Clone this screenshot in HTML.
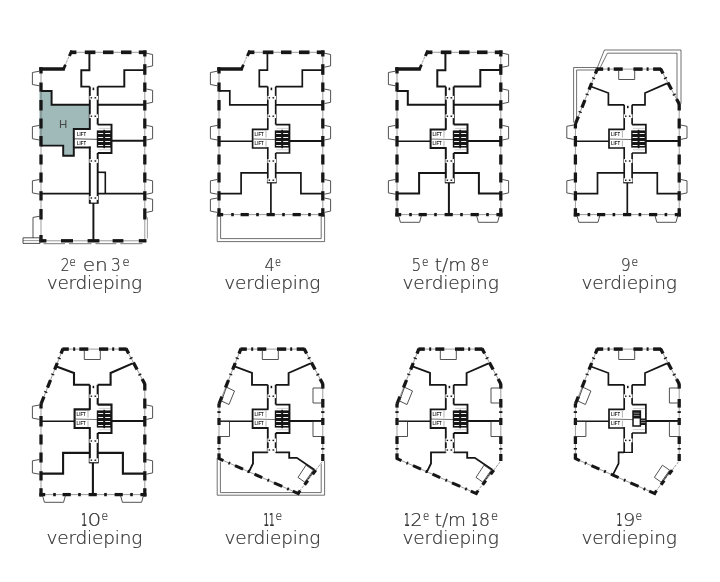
<!DOCTYPE html>
<html lang="nl"><head><meta charset="utf-8"><title>Verdiepingen</title>
<style>
html,body{margin:0;padding:0;background:#fff;}
body{width:720px;height:582px;overflow:hidden;}
svg{display:block;}
text{font-family:"Liberation Sans",sans-serif;filter:grayscale(1);}
.lb{font-family:"DejaVu Sans Light","DejaVu Sans","Liberation Sans",sans-serif;font-weight:200;font-size:18.5px;fill:#333;stroke:#333;stroke-width:0.22px;}
.sp{font-size:12px;}
.l1{font-family:"DejaVu Sans","Liberation Sans",sans-serif;font-weight:400;}
</style></head><body>
<svg width="720" height="582" viewBox="0 0 720 582">
<rect width="720" height="582" fill="#fff"/>
<g transform="translate(0,0)">
<path d="M39.4 90.9 L51.6 90.9 L51.6 104.8 L89.8 104.8 L89.8 129 L73.8 129 L73.8 155.8 L63.2 155.8 L63.2 145.6 L39.4 145.6 Z" fill="#a0baba" stroke="none" stroke-width="0" stroke-linejoin="miter"/>
<path d="M64.5 67 L70.3 53" fill="none" stroke="#383838" stroke-width="0.5" stroke-linejoin="miter"/>
<path d="M64.5 67 L70.3 53" stroke="#fff" stroke-width="1" stroke-dasharray="1.2 2.4" fill="none"/>
<line x1="70" y1="52.3" x2="146" y2="52.3" stroke="#383838" stroke-width="0.5"/>
<line x1="70.3" y1="52.3" x2="76.4" y2="52.3" stroke="#161616" stroke-width="3.7"/>
<line x1="84.8" y1="52.3" x2="95.4" y2="52.3" stroke="#161616" stroke-width="3.7"/>
<line x1="103" y1="52.3" x2="113.5" y2="52.3" stroke="#161616" stroke-width="3.7"/>
<line x1="121" y1="52.3" x2="131.5" y2="52.3" stroke="#161616" stroke-width="3.7"/>
<line x1="138.8" y1="52.3" x2="146.5" y2="52.3" stroke="#161616" stroke-width="3.7"/>
<path d="M71.8 50.6 L69.4 56" fill="none" stroke="#161616" stroke-width="3" stroke-linejoin="miter"/>
<line x1="39.2" y1="69" x2="64.8" y2="69" stroke="#161616" stroke-width="3.5"/>
<path d="M63.4 69.5 L65.4 64.8" fill="none" stroke="#161616" stroke-width="2.8" stroke-linejoin="miter"/>
<line x1="41" y1="69" x2="41" y2="240" stroke="#383838" stroke-width="0.5"/>
<line x1="144.8" y1="52" x2="144.8" y2="240" stroke="#383838" stroke-width="0.5"/>
<line x1="41" y1="67.2" x2="41" y2="73.5" stroke="#161616" stroke-width="3.3"/>
<line x1="41" y1="82.5" x2="41" y2="91.6" stroke="#161616" stroke-width="3.3"/>
<line x1="41" y1="100" x2="41" y2="110.5" stroke="#161616" stroke-width="3.3"/>
<line x1="41" y1="118.5" x2="41" y2="128.5" stroke="#161616" stroke-width="3.3"/>
<line x1="41" y1="136" x2="41" y2="146.5" stroke="#161616" stroke-width="3.3"/>
<line x1="41" y1="154.5" x2="41" y2="164.5" stroke="#161616" stroke-width="3.3"/>
<line x1="41" y1="172.5" x2="41" y2="182.5" stroke="#161616" stroke-width="3.3"/>
<line x1="41" y1="191.2" x2="41" y2="200.5" stroke="#161616" stroke-width="3.3"/>
<line x1="41" y1="209" x2="41" y2="219.5" stroke="#161616" stroke-width="3.3"/>
<line x1="41" y1="235" x2="41" y2="242.2" stroke="#161616" stroke-width="3.3"/>
<line x1="144.8" y1="50.4" x2="144.8" y2="56.5" stroke="#161616" stroke-width="3.3"/>
<line x1="144.8" y1="64.2" x2="144.8" y2="74.8" stroke="#161616" stroke-width="3.3"/>
<line x1="144.8" y1="82.5" x2="144.8" y2="91.8" stroke="#161616" stroke-width="3.3"/>
<line x1="144.8" y1="100.2" x2="144.8" y2="110.5" stroke="#161616" stroke-width="3.3"/>
<line x1="144.8" y1="118.5" x2="144.8" y2="128.5" stroke="#161616" stroke-width="3.3"/>
<line x1="144.8" y1="136" x2="144.8" y2="146.5" stroke="#161616" stroke-width="3.3"/>
<line x1="144.8" y1="154.5" x2="144.8" y2="164.5" stroke="#161616" stroke-width="3.3"/>
<line x1="144.8" y1="172.5" x2="144.8" y2="182.5" stroke="#161616" stroke-width="3.3"/>
<line x1="144.8" y1="191.2" x2="144.8" y2="200.5" stroke="#161616" stroke-width="3.3"/>
<line x1="144.8" y1="208.4" x2="144.8" y2="219.5" stroke="#161616" stroke-width="3.3"/>
<line x1="41" y1="240.8" x2="144.8" y2="240.8" stroke="#383838" stroke-width="0.5"/>
<line x1="39.4" y1="240.8" x2="46.4" y2="240.8" stroke="#161616" stroke-width="3.4"/>
<line x1="61" y1="240.8" x2="73" y2="240.8" stroke="#161616" stroke-width="3.4"/>
<line x1="87.6" y1="240.8" x2="99.4" y2="240.8" stroke="#161616" stroke-width="3.4"/>
<line x1="112.6" y1="240.8" x2="123.4" y2="240.8" stroke="#161616" stroke-width="3.4"/>
<line x1="138.8" y1="240.8" x2="146.5" y2="240.8" stroke="#161616" stroke-width="3.4"/>
<path d="M43.5 243.7 L65 243.7" fill="none" stroke="#555" stroke-width="0.8" stroke-linejoin="miter"/>
<path d="M69 243.7 L91.5 243.7" fill="none" stroke="#555" stroke-width="0.8" stroke-linejoin="miter"/>
<path d="M95.5 243.7 L116.3 243.7" fill="none" stroke="#555" stroke-width="0.8" stroke-linejoin="miter"/>
<path d="M120.3 243.7 L142.5 243.7" fill="none" stroke="#555" stroke-width="0.8" stroke-linejoin="miter"/>
<path d="M147.4 238.5 L147.4 217.5 L146 216.5" fill="none" stroke="#383838" stroke-width="0.5" stroke-linejoin="miter"/>
<path d="M41 90.9 L51.6 90.9 L51.6 104.8 L89.8 104.8" fill="none" stroke="#161616" stroke-width="1.95" stroke-linejoin="miter"/>
<path d="M89.8 129 L73.8 129 L73.8 155.8 L63.2 155.8 L63.2 145.6 L41 145.6" fill="none" stroke="#161616" stroke-width="1.95" stroke-linejoin="miter"/>
<text x="59" y="127.6" font-size="11.5" font-weight="normal" text-anchor="start" fill="#3a4a4a" font-family="DejaVu Sans Light, DejaVu Sans, Liberation Sans, sans-serif" font-weight="200">H</text>
<path d="M89.4 52.3 L89.4 70.2 L81.3 70.2 L81.3 86.6 L89.8 86.6" fill="none" stroke="#161616" stroke-width="1.95" stroke-linejoin="miter"/>
<path d="M97.7 86.6 L124.3 86.6 L124.3 70.1 L144.8 70.1" fill="none" stroke="#161616" stroke-width="1.95" stroke-linejoin="miter"/>
<line x1="97.7" y1="104.8" x2="144.8" y2="104.8" stroke="#161616" stroke-width="1.9"/>
<line x1="111.5" y1="140.8" x2="144.8" y2="140.8" stroke="#161616" stroke-width="1.9"/>
<line x1="73.8" y1="147.5" x2="90.7" y2="147.5" stroke="#161616" stroke-width="1.95"/>
<line x1="74" y1="138.8" x2="99" y2="139.4" stroke="#222" stroke-width="0.8"/>
<text x="77" y="136" font-size="4.6" font-weight="bold" text-anchor="start" fill="#222" font-family="Liberation Sans, sans-serif" textLength="9" lengthAdjust="spacingAndGlyphs">LIFT</text>
<text x="77" y="145.3" font-size="4.6" font-weight="bold" text-anchor="start" fill="#222" font-family="Liberation Sans, sans-serif" textLength="9" lengthAdjust="spacingAndGlyphs">LIFT</text>
<line x1="89.8" y1="86.6" x2="89.8" y2="129.9" stroke="#161616" stroke-width="1.95"/>
<line x1="89.8" y1="146.6" x2="89.8" y2="203.2" stroke="#161616" stroke-width="1.95"/>
<line x1="97.7" y1="86.6" x2="97.7" y2="124.6" stroke="#161616" stroke-width="1.95"/>
<line x1="97.7" y1="153" x2="97.7" y2="203.2" stroke="#161616" stroke-width="1.95"/>
<line x1="88.9" y1="203.2" x2="98.6" y2="203.2" stroke="#161616" stroke-width="1.2"/>
<path d="M97.7 124.6 L111.5 124.6 L111.5 153 L97.7 153" fill="none" stroke="#161616" stroke-width="1.95" stroke-linejoin="miter"/>
<rect x="96.8" y="130.4" width="14.2" height="17.2" fill="#161616"/>
<rect x="103.4" y="129.8" width="1.6" height="18.4" fill="#161616"/>
<line x1="98.2" y1="133.5" x2="103.2" y2="133.5" stroke="#f4f4f4" stroke-width="1"/>
<line x1="105.2" y1="133.5" x2="110.2" y2="133.5" stroke="#f4f4f4" stroke-width="1"/>
<line x1="98.2" y1="137.5" x2="103.2" y2="137.5" stroke="#f4f4f4" stroke-width="1"/>
<line x1="105.2" y1="137.5" x2="110.2" y2="137.5" stroke="#f4f4f4" stroke-width="1"/>
<line x1="98.2" y1="141.5" x2="103.2" y2="141.5" stroke="#f4f4f4" stroke-width="1"/>
<line x1="105.2" y1="141.5" x2="110.2" y2="141.5" stroke="#f4f4f4" stroke-width="1"/>
<line x1="98.2" y1="145.5" x2="103.2" y2="145.5" stroke="#f4f4f4" stroke-width="1"/>
<line x1="105.2" y1="145.5" x2="110.2" y2="145.5" stroke="#f4f4f4" stroke-width="1"/>
<line x1="98.6" y1="128.4" x2="110.6" y2="128.4" stroke="#888" stroke-width="0.4"/>
<line x1="98.6" y1="149.8" x2="110.6" y2="149.8" stroke="#888" stroke-width="0.4"/>
<line x1="41" y1="193.6" x2="89.8" y2="193.6" stroke="#161616" stroke-width="1.95"/>
<line x1="97.7" y1="193.6" x2="144.8" y2="193.6" stroke="#161616" stroke-width="1.95"/>
<path d="M97.7 172.2 L105.3 172.4 L105.3 193.6" fill="none" stroke="#161616" stroke-width="1.6" stroke-linejoin="miter"/>
<line x1="93.4" y1="203" x2="93.4" y2="240" stroke="#161616" stroke-width="1.95"/>
<rect x="89.45" y="95.9" width="1.8" height="3.8" fill="#fff"/>
<rect x="96.25" y="95.9" width="1.8" height="3.8" fill="#fff"/>
<rect x="90.6" y="97.1" width="1.5" height="1.4" fill="#161616"/>
<rect x="94.5" y="97.1" width="1.6" height="1.4" fill="#161616"/>
<rect x="89.45" y="114.3" width="1.8" height="3.8" fill="#fff"/>
<rect x="96.25" y="114.3" width="1.8" height="3.8" fill="#fff"/>
<rect x="90.6" y="115.5" width="1.5" height="1.4" fill="#161616"/>
<rect x="94.5" y="115.5" width="1.6" height="1.4" fill="#161616"/>
<rect x="89.45" y="159.1" width="1.8" height="3.8" fill="#fff"/>
<rect x="96.25" y="159.1" width="1.8" height="3.8" fill="#fff"/>
<rect x="90.6" y="160.3" width="1.5" height="1.4" fill="#161616"/>
<rect x="94.5" y="160.3" width="1.6" height="1.4" fill="#161616"/>
<rect x="89.45" y="196.1" width="1.8" height="3.8" fill="#fff"/>
<rect x="96.25" y="196.1" width="1.8" height="3.8" fill="#fff"/>
<rect x="90.6" y="197.3" width="1.5" height="1.4" fill="#161616"/>
<rect x="94.5" y="197.3" width="1.6" height="1.4" fill="#161616"/>
<rect x="92.6" y="87.6" width="1.6" height="2.6" fill="#161616"/>
<path d="M39.4 71.2 L32.4 72.5 L32.4 84.5 L39.4 85.8" fill="none" stroke="#333" stroke-width="0.85" stroke-linejoin="miter"/>
<path d="M39.4 125.4 L32.4 126.7 L32.4 138.7 L39.4 140" fill="none" stroke="#333" stroke-width="0.85" stroke-linejoin="miter"/>
<path d="M39.4 179.5 L32.4 180.8 L32.4 192.9 L39.4 194.2" fill="none" stroke="#333" stroke-width="0.85" stroke-linejoin="miter"/>
<path d="M146.4 53.2 L152.6 54.5 L152.6 65.9 L146.4 67.2" fill="none" stroke="#333" stroke-width="0.85" stroke-linejoin="miter"/>
<path d="M146.4 89 L152.6 90.3 L152.6 102.3 L146.4 103.6" fill="none" stroke="#333" stroke-width="0.85" stroke-linejoin="miter"/>
<path d="M146.4 125.4 L152.6 126.7 L152.6 138.7 L146.4 140" fill="none" stroke="#333" stroke-width="0.85" stroke-linejoin="miter"/>
<path d="M146.4 179.5 L152.6 180.8 L152.6 192.9 L146.4 194.2" fill="none" stroke="#333" stroke-width="0.85" stroke-linejoin="miter"/>
<path d="M146.4 198 L152.6 199.3 L152.6 211.1 L146.4 212.4" fill="none" stroke="#333" stroke-width="0.85" stroke-linejoin="miter"/>
<path d="M41 216 L33 217.4 L33 238" fill="none" stroke="#333" stroke-width="0.85" stroke-linejoin="miter"/>
<path d="M23 237.8 L40 237.8 L40 243.4 L23 243.4 Z" fill="none" stroke="#333" stroke-width="0.85" stroke-linejoin="miter"/>
<path d="M23 240.6 L40 240.6" fill="none" stroke="#333" stroke-width="0.5" stroke-linejoin="miter"/>
</g>
<g transform="translate(178,0)">
<path d="M64.5 67 L70.3 53" fill="none" stroke="#383838" stroke-width="0.5" stroke-linejoin="miter"/>
<path d="M64.5 67 L70.3 53" stroke="#fff" stroke-width="1" stroke-dasharray="1.2 2.4" fill="none"/>
<line x1="70" y1="52.3" x2="146" y2="52.3" stroke="#383838" stroke-width="0.5"/>
<line x1="70.3" y1="52.3" x2="76.4" y2="52.3" stroke="#161616" stroke-width="3.7"/>
<line x1="84.8" y1="52.3" x2="95.4" y2="52.3" stroke="#161616" stroke-width="3.7"/>
<line x1="103" y1="52.3" x2="113.5" y2="52.3" stroke="#161616" stroke-width="3.7"/>
<line x1="121" y1="52.3" x2="131.5" y2="52.3" stroke="#161616" stroke-width="3.7"/>
<line x1="138.8" y1="52.3" x2="146.5" y2="52.3" stroke="#161616" stroke-width="3.7"/>
<path d="M71.8 50.6 L69.4 56" fill="none" stroke="#161616" stroke-width="3" stroke-linejoin="miter"/>
<line x1="39.2" y1="69" x2="64.8" y2="69" stroke="#161616" stroke-width="3.5"/>
<path d="M63.4 69.5 L65.4 64.8" fill="none" stroke="#161616" stroke-width="2.8" stroke-linejoin="miter"/>
<line x1="41" y1="69" x2="41" y2="214" stroke="#383838" stroke-width="0.5"/>
<line x1="144.8" y1="52" x2="144.8" y2="214" stroke="#383838" stroke-width="0.5"/>
<line x1="41" y1="67.2" x2="41" y2="73.5" stroke="#161616" stroke-width="3.3"/>
<line x1="41" y1="82.5" x2="41" y2="91.6" stroke="#161616" stroke-width="3.3"/>
<line x1="41" y1="100" x2="41" y2="110.5" stroke="#161616" stroke-width="3.3"/>
<line x1="41" y1="118.5" x2="41" y2="128.5" stroke="#161616" stroke-width="3.3"/>
<line x1="41" y1="136" x2="41" y2="146.5" stroke="#161616" stroke-width="3.3"/>
<line x1="41" y1="154.5" x2="41" y2="164.5" stroke="#161616" stroke-width="3.3"/>
<line x1="41" y1="172.5" x2="41" y2="182.5" stroke="#161616" stroke-width="3.3"/>
<line x1="41" y1="191.2" x2="41" y2="200.5" stroke="#161616" stroke-width="3.3"/>
<line x1="41" y1="208.2" x2="41" y2="216.6" stroke="#161616" stroke-width="3.3"/>
<line x1="144.8" y1="50.4" x2="144.8" y2="56.5" stroke="#161616" stroke-width="3.3"/>
<line x1="144.8" y1="64.2" x2="144.8" y2="74.8" stroke="#161616" stroke-width="3.3"/>
<line x1="144.8" y1="82.5" x2="144.8" y2="91.8" stroke="#161616" stroke-width="3.3"/>
<line x1="144.8" y1="100.2" x2="144.8" y2="110.5" stroke="#161616" stroke-width="3.3"/>
<line x1="144.8" y1="118.5" x2="144.8" y2="128.5" stroke="#161616" stroke-width="3.3"/>
<line x1="144.8" y1="136" x2="144.8" y2="146.5" stroke="#161616" stroke-width="3.3"/>
<line x1="144.8" y1="154.5" x2="144.8" y2="164.5" stroke="#161616" stroke-width="3.3"/>
<line x1="144.8" y1="172.5" x2="144.8" y2="182.5" stroke="#161616" stroke-width="3.3"/>
<line x1="144.8" y1="191.2" x2="144.8" y2="200.5" stroke="#161616" stroke-width="3.3"/>
<line x1="144.8" y1="208.2" x2="144.8" y2="216.6" stroke="#161616" stroke-width="3.3"/>
<line x1="41" y1="214.6" x2="144.8" y2="214.6" stroke="#383838" stroke-width="0.5"/>
<line x1="39.4" y1="214.6" x2="45.2" y2="214.6" stroke="#161616" stroke-width="3.3"/>
<line x1="53.2" y1="214.6" x2="55.8" y2="214.6" stroke="#161616" stroke-width="3.3"/>
<line x1="62.6" y1="214.6" x2="70.8" y2="214.6" stroke="#161616" stroke-width="3.3"/>
<line x1="78.2" y1="214.6" x2="80.8" y2="214.6" stroke="#161616" stroke-width="3.3"/>
<line x1="88.6" y1="214.6" x2="96.8" y2="214.6" stroke="#161616" stroke-width="3.3"/>
<line x1="104.2" y1="214.6" x2="106.8" y2="214.6" stroke="#161616" stroke-width="3.3"/>
<line x1="114.6" y1="214.6" x2="122.8" y2="214.6" stroke="#161616" stroke-width="3.3"/>
<line x1="130.2" y1="214.6" x2="132.8" y2="214.6" stroke="#161616" stroke-width="3.3"/>
<line x1="140.4" y1="214.6" x2="146.4" y2="214.6" stroke="#161616" stroke-width="3.3"/>
<path d="M89.4 52.3 L89.4 70.2 L81.3 70.2 L81.3 86.6 L89.8 86.6" fill="none" stroke="#161616" stroke-width="1.7" stroke-linejoin="miter"/>
<path d="M97.7 86.6 L124.3 86.6 L124.3 70.1 L144.8 70.1" fill="none" stroke="#161616" stroke-width="1.7" stroke-linejoin="miter"/>
<path d="M41 90.9 L51.8 90.9 L51.8 104.8 L89.8 104.8" fill="none" stroke="#161616" stroke-width="1.7" stroke-linejoin="miter"/>
<line x1="97.7" y1="104.8" x2="144.8" y2="104.8" stroke="#161616" stroke-width="1.7"/>
<rect x="92.6" y="87.6" width="1.6" height="2.6" fill="#161616"/>
<line x1="89.8" y1="86.6" x2="89.8" y2="129.9" stroke="#161616" stroke-width="1.7"/>
<line x1="89.8" y1="147.1" x2="89.8" y2="182.8" stroke="#161616" stroke-width="1.7"/>
<line x1="97.7" y1="86.6" x2="97.7" y2="124.6" stroke="#161616" stroke-width="1.7"/>
<line x1="97.7" y1="153" x2="97.7" y2="182.8" stroke="#161616" stroke-width="1.7"/>
<line x1="88.9" y1="182.8" x2="98.6" y2="182.8" stroke="#161616" stroke-width="1.2"/>
<path d="M89.8 129.4 L74.6 129.4 L74.6 148 L89.8 148" fill="none" stroke="#161616" stroke-width="1.7" stroke-linejoin="miter"/>
<line x1="74" y1="139" x2="99" y2="139.6" stroke="#333" stroke-width="0.7"/>
<line x1="88" y1="131" x2="88" y2="137.6" stroke="#666" stroke-width="0.5"/>
<line x1="88" y1="140.6" x2="88" y2="146.6" stroke="#666" stroke-width="0.5"/>
<text x="76.6" y="136" font-size="4.6" font-weight="bold" text-anchor="start" fill="#222" font-family="Liberation Sans, sans-serif" textLength="9" lengthAdjust="spacingAndGlyphs">LIFT</text>
<text x="76.6" y="145.3" font-size="4.6" font-weight="bold" text-anchor="start" fill="#222" font-family="Liberation Sans, sans-serif" textLength="9" lengthAdjust="spacingAndGlyphs">LIFT</text>
<path d="M97.7 124.6 L111.5 124.6 L111.5 153 L97.7 153" fill="none" stroke="#161616" stroke-width="1.7" stroke-linejoin="miter"/>
<rect x="96.8" y="130.4" width="14.2" height="17.2" fill="#161616"/>
<rect x="103.4" y="129.8" width="1.6" height="18.4" fill="#161616"/>
<line x1="98.2" y1="133.5" x2="103.2" y2="133.5" stroke="#f4f4f4" stroke-width="1"/>
<line x1="105.2" y1="133.5" x2="110.2" y2="133.5" stroke="#f4f4f4" stroke-width="1"/>
<line x1="98.2" y1="137.5" x2="103.2" y2="137.5" stroke="#f4f4f4" stroke-width="1"/>
<line x1="105.2" y1="137.5" x2="110.2" y2="137.5" stroke="#f4f4f4" stroke-width="1"/>
<line x1="98.2" y1="141.5" x2="103.2" y2="141.5" stroke="#f4f4f4" stroke-width="1"/>
<line x1="105.2" y1="141.5" x2="110.2" y2="141.5" stroke="#f4f4f4" stroke-width="1"/>
<line x1="98.2" y1="145.5" x2="103.2" y2="145.5" stroke="#f4f4f4" stroke-width="1"/>
<line x1="105.2" y1="145.5" x2="110.2" y2="145.5" stroke="#f4f4f4" stroke-width="1"/>
<line x1="98.6" y1="128.4" x2="110.6" y2="128.4" stroke="#888" stroke-width="0.4"/>
<line x1="98.6" y1="149.8" x2="110.6" y2="149.8" stroke="#888" stroke-width="0.4"/>
<line x1="41" y1="141.3" x2="74.6" y2="141.3" stroke="#161616" stroke-width="1.6"/>
<line x1="111.5" y1="141" x2="144.8" y2="141" stroke="#161616" stroke-width="1.9"/>
<path d="M41 193.6 L63.1 193.6 L63.1 172.9 L89.8 172.9" fill="none" stroke="#161616" stroke-width="1.7" stroke-linejoin="miter"/>
<path d="M97.7 172.9 L122.9 172.9 L122.9 193.6 L144.8 193.6" fill="none" stroke="#161616" stroke-width="1.7" stroke-linejoin="miter"/>
<line x1="92.9" y1="182.8" x2="92.9" y2="214.6" stroke="#161616" stroke-width="1.7"/>
<rect x="89.45" y="95.9" width="1.8" height="3.8" fill="#fff"/>
<rect x="96.25" y="95.9" width="1.8" height="3.8" fill="#fff"/>
<rect x="90.6" y="97.1" width="1.5" height="1.4" fill="#161616"/>
<rect x="94.5" y="97.1" width="1.6" height="1.4" fill="#161616"/>
<rect x="89.45" y="114.3" width="1.8" height="3.8" fill="#fff"/>
<rect x="96.25" y="114.3" width="1.8" height="3.8" fill="#fff"/>
<rect x="90.6" y="115.5" width="1.5" height="1.4" fill="#161616"/>
<rect x="94.5" y="115.5" width="1.6" height="1.4" fill="#161616"/>
<rect x="89.45" y="159.1" width="1.8" height="3.8" fill="#fff"/>
<rect x="96.25" y="159.1" width="1.8" height="3.8" fill="#fff"/>
<rect x="90.6" y="160.3" width="1.5" height="1.4" fill="#161616"/>
<rect x="94.5" y="160.3" width="1.6" height="1.4" fill="#161616"/>
<rect x="89.45" y="178.3" width="1.8" height="3.8" fill="#fff"/>
<rect x="96.25" y="178.3" width="1.8" height="3.8" fill="#fff"/>
<rect x="90.6" y="179.5" width="1.5" height="1.4" fill="#161616"/>
<rect x="94.5" y="179.5" width="1.6" height="1.4" fill="#161616"/>
<path d="M39.4 71.2 L32.4 72.5 L32.4 84.5 L39.4 85.8" fill="none" stroke="#333" stroke-width="0.85" stroke-linejoin="miter"/>
<path d="M39.4 125.4 L32.4 126.7 L32.4 138.7 L39.4 140" fill="none" stroke="#333" stroke-width="0.85" stroke-linejoin="miter"/>
<path d="M39.4 179.5 L32.4 180.8 L32.4 192.9 L39.4 194.2" fill="none" stroke="#333" stroke-width="0.85" stroke-linejoin="miter"/>
<path d="M146.4 53.2 L152.6 54.5 L152.6 65.9 L146.4 67.2" fill="none" stroke="#333" stroke-width="0.85" stroke-linejoin="miter"/>
<path d="M146.4 89 L152.6 90.3 L152.6 102.3 L146.4 103.6" fill="none" stroke="#333" stroke-width="0.85" stroke-linejoin="miter"/>
<path d="M146.4 125.4 L152.6 126.7 L152.6 138.7 L146.4 140" fill="none" stroke="#333" stroke-width="0.85" stroke-linejoin="miter"/>
<path d="M146.4 179.5 L152.6 180.8 L152.6 192.9 L146.4 194.2" fill="none" stroke="#333" stroke-width="0.85" stroke-linejoin="miter"/>
<path d="M39.4 198 L32.4 199.3 L32.4 211.1 L39.4 212.4" fill="none" stroke="#333" stroke-width="0.85" stroke-linejoin="miter"/>
<path d="M146.4 198 L152.6 199.3 L152.6 211.1 L146.4 212.4" fill="none" stroke="#333" stroke-width="0.85" stroke-linejoin="miter"/>
<path d="M39.2 215 L39.2 241.6 L146.6 241.6 L146.6 215" fill="none" stroke="#333" stroke-width="0.7" stroke-linejoin="miter"/>
<path d="M42.6 215.6 L42.6 238.6 L143.2 238.6 L143.2 215.6" fill="none" stroke="#333" stroke-width="0.7" stroke-linejoin="miter"/>
</g>
<g transform="translate(356,0)">
<path d="M64.5 67 L70.3 53" fill="none" stroke="#383838" stroke-width="0.5" stroke-linejoin="miter"/>
<path d="M64.5 67 L70.3 53" stroke="#fff" stroke-width="1" stroke-dasharray="1.2 2.4" fill="none"/>
<line x1="70" y1="52.3" x2="146" y2="52.3" stroke="#383838" stroke-width="0.5"/>
<line x1="70.3" y1="52.3" x2="76.4" y2="52.3" stroke="#161616" stroke-width="3.7"/>
<line x1="84.8" y1="52.3" x2="95.4" y2="52.3" stroke="#161616" stroke-width="3.7"/>
<line x1="103" y1="52.3" x2="113.5" y2="52.3" stroke="#161616" stroke-width="3.7"/>
<line x1="121" y1="52.3" x2="131.5" y2="52.3" stroke="#161616" stroke-width="3.7"/>
<line x1="138.8" y1="52.3" x2="146.5" y2="52.3" stroke="#161616" stroke-width="3.7"/>
<path d="M71.8 50.6 L69.4 56" fill="none" stroke="#161616" stroke-width="3" stroke-linejoin="miter"/>
<line x1="39.2" y1="69" x2="64.8" y2="69" stroke="#161616" stroke-width="3.5"/>
<path d="M63.4 69.5 L65.4 64.8" fill="none" stroke="#161616" stroke-width="2.8" stroke-linejoin="miter"/>
<line x1="41" y1="69" x2="41" y2="214" stroke="#383838" stroke-width="0.5"/>
<line x1="144.8" y1="52" x2="144.8" y2="214" stroke="#383838" stroke-width="0.5"/>
<line x1="41" y1="67.2" x2="41" y2="73.5" stroke="#161616" stroke-width="3.3"/>
<line x1="41" y1="82.5" x2="41" y2="91.6" stroke="#161616" stroke-width="3.3"/>
<line x1="41" y1="100" x2="41" y2="110.5" stroke="#161616" stroke-width="3.3"/>
<line x1="41" y1="118.5" x2="41" y2="128.5" stroke="#161616" stroke-width="3.3"/>
<line x1="41" y1="136" x2="41" y2="146.5" stroke="#161616" stroke-width="3.3"/>
<line x1="41" y1="154.5" x2="41" y2="164.5" stroke="#161616" stroke-width="3.3"/>
<line x1="41" y1="172.5" x2="41" y2="182.5" stroke="#161616" stroke-width="3.3"/>
<line x1="41" y1="191.2" x2="41" y2="200.5" stroke="#161616" stroke-width="3.3"/>
<line x1="41" y1="208.2" x2="41" y2="216.6" stroke="#161616" stroke-width="3.3"/>
<line x1="144.8" y1="50.4" x2="144.8" y2="56.5" stroke="#161616" stroke-width="3.3"/>
<line x1="144.8" y1="64.2" x2="144.8" y2="74.8" stroke="#161616" stroke-width="3.3"/>
<line x1="144.8" y1="82.5" x2="144.8" y2="91.8" stroke="#161616" stroke-width="3.3"/>
<line x1="144.8" y1="100.2" x2="144.8" y2="110.5" stroke="#161616" stroke-width="3.3"/>
<line x1="144.8" y1="118.5" x2="144.8" y2="128.5" stroke="#161616" stroke-width="3.3"/>
<line x1="144.8" y1="136" x2="144.8" y2="146.5" stroke="#161616" stroke-width="3.3"/>
<line x1="144.8" y1="154.5" x2="144.8" y2="164.5" stroke="#161616" stroke-width="3.3"/>
<line x1="144.8" y1="172.5" x2="144.8" y2="182.5" stroke="#161616" stroke-width="3.3"/>
<line x1="144.8" y1="191.2" x2="144.8" y2="200.5" stroke="#161616" stroke-width="3.3"/>
<line x1="144.8" y1="208.2" x2="144.8" y2="216.6" stroke="#161616" stroke-width="3.3"/>
<line x1="41" y1="214.6" x2="144.8" y2="214.6" stroke="#383838" stroke-width="0.5"/>
<line x1="39.4" y1="214.6" x2="45.2" y2="214.6" stroke="#161616" stroke-width="3.3"/>
<line x1="53.2" y1="214.6" x2="55.8" y2="214.6" stroke="#161616" stroke-width="3.3"/>
<line x1="62.6" y1="214.6" x2="70.8" y2="214.6" stroke="#161616" stroke-width="3.3"/>
<line x1="78.2" y1="214.6" x2="80.8" y2="214.6" stroke="#161616" stroke-width="3.3"/>
<line x1="88.6" y1="214.6" x2="96.8" y2="214.6" stroke="#161616" stroke-width="3.3"/>
<line x1="104.2" y1="214.6" x2="106.8" y2="214.6" stroke="#161616" stroke-width="3.3"/>
<line x1="114.6" y1="214.6" x2="122.8" y2="214.6" stroke="#161616" stroke-width="3.3"/>
<line x1="130.2" y1="214.6" x2="132.8" y2="214.6" stroke="#161616" stroke-width="3.3"/>
<line x1="140.4" y1="214.6" x2="146.4" y2="214.6" stroke="#161616" stroke-width="3.3"/>
<path d="M89.4 52.3 L89.4 70.2 L81.3 70.2 L81.3 86.6 L89.8 86.6" fill="none" stroke="#161616" stroke-width="2" stroke-linejoin="miter"/>
<path d="M97.7 86.6 L124.3 86.6 L124.3 70.1 L144.8 70.1" fill="none" stroke="#161616" stroke-width="2" stroke-linejoin="miter"/>
<path d="M41 90.9 L51.8 90.9 L51.8 104.8 L89.8 104.8" fill="none" stroke="#161616" stroke-width="2" stroke-linejoin="miter"/>
<line x1="97.7" y1="104.8" x2="144.8" y2="104.8" stroke="#161616" stroke-width="2"/>
<rect x="92.6" y="87.6" width="1.6" height="2.6" fill="#161616"/>
<line x1="89.8" y1="86.6" x2="89.8" y2="129.9" stroke="#161616" stroke-width="2"/>
<line x1="89.8" y1="147.1" x2="89.8" y2="182.8" stroke="#161616" stroke-width="2"/>
<line x1="97.7" y1="86.6" x2="97.7" y2="124.6" stroke="#161616" stroke-width="2"/>
<line x1="97.7" y1="153" x2="97.7" y2="182.8" stroke="#161616" stroke-width="2"/>
<line x1="88.9" y1="182.8" x2="98.6" y2="182.8" stroke="#161616" stroke-width="1.2"/>
<path d="M89.8 129.4 L74.6 129.4 L74.6 148 L89.8 148" fill="none" stroke="#161616" stroke-width="2" stroke-linejoin="miter"/>
<line x1="74" y1="139" x2="99" y2="139.6" stroke="#333" stroke-width="0.7"/>
<line x1="88" y1="131" x2="88" y2="137.6" stroke="#666" stroke-width="0.5"/>
<line x1="88" y1="140.6" x2="88" y2="146.6" stroke="#666" stroke-width="0.5"/>
<text x="76.6" y="136" font-size="4.6" font-weight="bold" text-anchor="start" fill="#222" font-family="Liberation Sans, sans-serif" textLength="9" lengthAdjust="spacingAndGlyphs">LIFT</text>
<text x="76.6" y="145.3" font-size="4.6" font-weight="bold" text-anchor="start" fill="#222" font-family="Liberation Sans, sans-serif" textLength="9" lengthAdjust="spacingAndGlyphs">LIFT</text>
<path d="M97.7 124.6 L111.5 124.6 L111.5 153 L97.7 153" fill="none" stroke="#161616" stroke-width="2" stroke-linejoin="miter"/>
<rect x="96.8" y="130.4" width="14.2" height="17.2" fill="#161616"/>
<rect x="103.4" y="129.8" width="1.6" height="18.4" fill="#161616"/>
<line x1="98.2" y1="133.5" x2="103.2" y2="133.5" stroke="#f4f4f4" stroke-width="1"/>
<line x1="105.2" y1="133.5" x2="110.2" y2="133.5" stroke="#f4f4f4" stroke-width="1"/>
<line x1="98.2" y1="137.5" x2="103.2" y2="137.5" stroke="#f4f4f4" stroke-width="1"/>
<line x1="105.2" y1="137.5" x2="110.2" y2="137.5" stroke="#f4f4f4" stroke-width="1"/>
<line x1="98.2" y1="141.5" x2="103.2" y2="141.5" stroke="#f4f4f4" stroke-width="1"/>
<line x1="105.2" y1="141.5" x2="110.2" y2="141.5" stroke="#f4f4f4" stroke-width="1"/>
<line x1="98.2" y1="145.5" x2="103.2" y2="145.5" stroke="#f4f4f4" stroke-width="1"/>
<line x1="105.2" y1="145.5" x2="110.2" y2="145.5" stroke="#f4f4f4" stroke-width="1"/>
<line x1="98.6" y1="128.4" x2="110.6" y2="128.4" stroke="#888" stroke-width="0.4"/>
<line x1="98.6" y1="149.8" x2="110.6" y2="149.8" stroke="#888" stroke-width="0.4"/>
<line x1="41" y1="141.3" x2="74.6" y2="141.3" stroke="#161616" stroke-width="1.6"/>
<line x1="111.5" y1="141" x2="144.8" y2="141" stroke="#161616" stroke-width="1.9"/>
<path d="M41 193.6 L63.1 193.6 L63.1 172.9 L89.8 172.9" fill="none" stroke="#161616" stroke-width="2" stroke-linejoin="miter"/>
<path d="M97.7 172.9 L122.9 172.9 L122.9 193.6 L144.8 193.6" fill="none" stroke="#161616" stroke-width="2" stroke-linejoin="miter"/>
<line x1="92.9" y1="182.8" x2="92.9" y2="214.6" stroke="#161616" stroke-width="2"/>
<rect x="89.45" y="95.9" width="1.8" height="3.8" fill="#fff"/>
<rect x="96.25" y="95.9" width="1.8" height="3.8" fill="#fff"/>
<rect x="90.6" y="97.1" width="1.5" height="1.4" fill="#161616"/>
<rect x="94.5" y="97.1" width="1.6" height="1.4" fill="#161616"/>
<rect x="89.45" y="114.3" width="1.8" height="3.8" fill="#fff"/>
<rect x="96.25" y="114.3" width="1.8" height="3.8" fill="#fff"/>
<rect x="90.6" y="115.5" width="1.5" height="1.4" fill="#161616"/>
<rect x="94.5" y="115.5" width="1.6" height="1.4" fill="#161616"/>
<rect x="89.45" y="159.1" width="1.8" height="3.8" fill="#fff"/>
<rect x="96.25" y="159.1" width="1.8" height="3.8" fill="#fff"/>
<rect x="90.6" y="160.3" width="1.5" height="1.4" fill="#161616"/>
<rect x="94.5" y="160.3" width="1.6" height="1.4" fill="#161616"/>
<rect x="89.45" y="178.3" width="1.8" height="3.8" fill="#fff"/>
<rect x="96.25" y="178.3" width="1.8" height="3.8" fill="#fff"/>
<rect x="90.6" y="179.5" width="1.5" height="1.4" fill="#161616"/>
<rect x="94.5" y="179.5" width="1.6" height="1.4" fill="#161616"/>
<path d="M39.4 71.2 L32.4 72.5 L32.4 84.5 L39.4 85.8" fill="none" stroke="#333" stroke-width="0.85" stroke-linejoin="miter"/>
<path d="M39.4 125.4 L32.4 126.7 L32.4 138.7 L39.4 140" fill="none" stroke="#333" stroke-width="0.85" stroke-linejoin="miter"/>
<path d="M39.4 179.5 L32.4 180.8 L32.4 192.9 L39.4 194.2" fill="none" stroke="#333" stroke-width="0.85" stroke-linejoin="miter"/>
<path d="M146.4 53.2 L152.6 54.5 L152.6 65.9 L146.4 67.2" fill="none" stroke="#333" stroke-width="0.85" stroke-linejoin="miter"/>
<path d="M146.4 89 L152.6 90.3 L152.6 102.3 L146.4 103.6" fill="none" stroke="#333" stroke-width="0.85" stroke-linejoin="miter"/>
<path d="M146.4 125.4 L152.6 126.7 L152.6 138.7 L146.4 140" fill="none" stroke="#333" stroke-width="0.85" stroke-linejoin="miter"/>
<path d="M146.4 179.5 L152.6 180.8 L152.6 192.9 L146.4 194.2" fill="none" stroke="#333" stroke-width="0.85" stroke-linejoin="miter"/>
<path d="M42.6 215.6 L44.4 222.3 L63.6 222.3 L65.4 215.6" fill="none" stroke="#333" stroke-width="0.85" stroke-linejoin="miter"/>
<path d="M120.6 215.6 L122.4 222.3 L141.6 222.3 L143.4 215.6" fill="none" stroke="#333" stroke-width="0.85" stroke-linejoin="miter"/>
</g>
<g transform="translate(534.4,0)">
<path d="M39.2 122.5 L39.2 67.5 L63 67.5 L70 50 L146.6 50 L146.6 103.6" fill="none" stroke="#333" stroke-width="0.7" stroke-linejoin="miter"/>
<path d="M42.2 119 L42.2 70 L64.6 70 L73 53.2 L142.6 53.2 L142.6 100" fill="none" stroke="#333" stroke-width="0.7" stroke-linejoin="miter"/>
<line x1="62.8" y1="69.1" x2="126.3" y2="69.1" stroke="#383838" stroke-width="0.5"/>
<line x1="62.8" y1="69.1" x2="41" y2="124" stroke="#383838" stroke-width="0.5"/>
<line x1="126.3" y1="69.1" x2="144.8" y2="104" stroke="#383838" stroke-width="0.5"/>
<line x1="62.4" y1="69.1" x2="68.8" y2="69.1" stroke="#161616" stroke-width="3.5"/>
<line x1="73.2" y1="69.1" x2="75.2" y2="69.1" stroke="#161616" stroke-width="3.5"/>
<line x1="79.3" y1="69.1" x2="88.3" y2="69.1" stroke="#161616" stroke-width="3.5"/>
<line x1="99" y1="69.1" x2="108.2" y2="69.1" stroke="#161616" stroke-width="3.5"/>
<line x1="112.2" y1="69.1" x2="114.2" y2="69.1" stroke="#161616" stroke-width="3.5"/>
<line x1="118.7" y1="69.1" x2="126.6" y2="69.1" stroke="#161616" stroke-width="3.5"/>
<line x1="63" y1="68.6" x2="61.01" y2="73.6" stroke="#161616" stroke-width="3.3"/>
<line x1="59.42" y1="77.6" x2="58.95" y2="78.8" stroke="#161616" stroke-width="3.3"/>
<line x1="57.28" y1="83" x2="54.66" y2="89.6" stroke="#161616" stroke-width="3.3"/>
<line x1="52.99" y1="93.8" x2="52.52" y2="95" stroke="#161616" stroke-width="3.3"/>
<line x1="50.53" y1="100" x2="47.51" y2="107.6" stroke="#161616" stroke-width="3.3"/>
<line x1="46" y1="111.4" x2="45.53" y2="112.6" stroke="#161616" stroke-width="3.3"/>
<line x1="43.94" y1="116.6" x2="41" y2="124" stroke="#161616" stroke-width="3.3"/>
<line x1="126.03" y1="68.6" x2="128.63" y2="73.5" stroke="#161616" stroke-width="3.3"/>
<line x1="130.75" y1="77.5" x2="131.39" y2="78.7" stroke="#161616" stroke-width="3.3"/>
<line x1="133.4" y1="82.5" x2="137.11" y2="89.5" stroke="#161616" stroke-width="3.3"/>
<line x1="139.5" y1="94" x2="140.14" y2="95.2" stroke="#161616" stroke-width="3.3"/>
<line x1="142.15" y1="99" x2="144.96" y2="104.3" stroke="#161616" stroke-width="3.3"/>
<path d="M84.3 70.6 L84.3 79.5 L100.3 79.5 L100.3 70.6" fill="none" stroke="#333" stroke-width="0.85" stroke-linejoin="miter"/>
<line x1="41" y1="122" x2="41" y2="214" stroke="#383838" stroke-width="0.5"/>
<line x1="144.8" y1="104" x2="144.8" y2="214" stroke="#383838" stroke-width="0.5"/>
<line x1="41" y1="123.8" x2="41" y2="128.5" stroke="#161616" stroke-width="3.3"/>
<line x1="41" y1="136" x2="41" y2="146.5" stroke="#161616" stroke-width="3.3"/>
<line x1="41" y1="154.5" x2="41" y2="164.5" stroke="#161616" stroke-width="3.3"/>
<line x1="41" y1="172.5" x2="41" y2="182.5" stroke="#161616" stroke-width="3.3"/>
<line x1="41" y1="191.2" x2="41" y2="200.5" stroke="#161616" stroke-width="3.3"/>
<line x1="41" y1="208.2" x2="41" y2="216.6" stroke="#161616" stroke-width="3.3"/>
<line x1="144.8" y1="103.8" x2="144.8" y2="110.5" stroke="#161616" stroke-width="3.3"/>
<line x1="144.8" y1="118.5" x2="144.8" y2="128.5" stroke="#161616" stroke-width="3.3"/>
<line x1="144.8" y1="136" x2="144.8" y2="146.5" stroke="#161616" stroke-width="3.3"/>
<line x1="144.8" y1="154.5" x2="144.8" y2="164.5" stroke="#161616" stroke-width="3.3"/>
<line x1="144.8" y1="172.5" x2="144.8" y2="182.5" stroke="#161616" stroke-width="3.3"/>
<line x1="144.8" y1="191.2" x2="144.8" y2="200.5" stroke="#161616" stroke-width="3.3"/>
<line x1="144.8" y1="208.2" x2="144.8" y2="216.6" stroke="#161616" stroke-width="3.3"/>
<line x1="41" y1="214.6" x2="144.8" y2="214.6" stroke="#383838" stroke-width="0.5"/>
<line x1="39.4" y1="214.6" x2="45.2" y2="214.6" stroke="#161616" stroke-width="3.3"/>
<line x1="53.2" y1="214.6" x2="55.8" y2="214.6" stroke="#161616" stroke-width="3.3"/>
<line x1="62.6" y1="214.6" x2="70.8" y2="214.6" stroke="#161616" stroke-width="3.3"/>
<line x1="78.2" y1="214.6" x2="80.8" y2="214.6" stroke="#161616" stroke-width="3.3"/>
<line x1="88.6" y1="214.6" x2="96.8" y2="214.6" stroke="#161616" stroke-width="3.3"/>
<line x1="104.2" y1="214.6" x2="106.8" y2="214.6" stroke="#161616" stroke-width="3.3"/>
<line x1="114.6" y1="214.6" x2="122.8" y2="214.6" stroke="#161616" stroke-width="3.3"/>
<line x1="130.2" y1="214.6" x2="132.8" y2="214.6" stroke="#161616" stroke-width="3.3"/>
<line x1="140.4" y1="214.6" x2="146.4" y2="214.6" stroke="#161616" stroke-width="3.3"/>
<path d="M55.8 86.2 L74 93 L74 104.8 L89.8 104.8" fill="none" stroke="#161616" stroke-width="1.7" stroke-linejoin="miter"/>
<path d="M132.6 83.4 L110.6 93 L110.6 104.8 L97.7 104.8" fill="none" stroke="#161616" stroke-width="1.7" stroke-linejoin="miter"/>
<rect x="92.6" y="105.8" width="1.6" height="2.4" fill="#161616"/>
<line x1="89.8" y1="104.8" x2="89.8" y2="129.9" stroke="#161616" stroke-width="1.7"/>
<line x1="89.8" y1="147.1" x2="89.8" y2="182.8" stroke="#161616" stroke-width="1.7"/>
<line x1="97.7" y1="104.8" x2="97.7" y2="124.6" stroke="#161616" stroke-width="1.7"/>
<line x1="97.7" y1="153" x2="97.7" y2="182.8" stroke="#161616" stroke-width="1.7"/>
<line x1="88.9" y1="182.8" x2="98.6" y2="182.8" stroke="#161616" stroke-width="1.2"/>
<path d="M89.8 129.4 L74.6 129.4 L74.6 148 L89.8 148" fill="none" stroke="#161616" stroke-width="1.7" stroke-linejoin="miter"/>
<line x1="74" y1="139" x2="99" y2="139.6" stroke="#333" stroke-width="0.7"/>
<line x1="88" y1="131" x2="88" y2="137.6" stroke="#666" stroke-width="0.5"/>
<line x1="88" y1="140.6" x2="88" y2="146.6" stroke="#666" stroke-width="0.5"/>
<text x="76.6" y="136" font-size="4.6" font-weight="bold" text-anchor="start" fill="#222" font-family="Liberation Sans, sans-serif" textLength="9" lengthAdjust="spacingAndGlyphs">LIFT</text>
<text x="76.6" y="145.3" font-size="4.6" font-weight="bold" text-anchor="start" fill="#222" font-family="Liberation Sans, sans-serif" textLength="9" lengthAdjust="spacingAndGlyphs">LIFT</text>
<path d="M97.7 124.6 L111.5 124.6 L111.5 153 L97.7 153" fill="none" stroke="#161616" stroke-width="1.7" stroke-linejoin="miter"/>
<rect x="96.8" y="130.4" width="14.2" height="17.2" fill="#161616"/>
<rect x="103.4" y="129.8" width="1.6" height="18.4" fill="#161616"/>
<line x1="98.2" y1="133.5" x2="103.2" y2="133.5" stroke="#f4f4f4" stroke-width="1"/>
<line x1="105.2" y1="133.5" x2="110.2" y2="133.5" stroke="#f4f4f4" stroke-width="1"/>
<line x1="98.2" y1="137.5" x2="103.2" y2="137.5" stroke="#f4f4f4" stroke-width="1"/>
<line x1="105.2" y1="137.5" x2="110.2" y2="137.5" stroke="#f4f4f4" stroke-width="1"/>
<line x1="98.2" y1="141.5" x2="103.2" y2="141.5" stroke="#f4f4f4" stroke-width="1"/>
<line x1="105.2" y1="141.5" x2="110.2" y2="141.5" stroke="#f4f4f4" stroke-width="1"/>
<line x1="98.2" y1="145.5" x2="103.2" y2="145.5" stroke="#f4f4f4" stroke-width="1"/>
<line x1="105.2" y1="145.5" x2="110.2" y2="145.5" stroke="#f4f4f4" stroke-width="1"/>
<line x1="98.6" y1="128.4" x2="110.6" y2="128.4" stroke="#888" stroke-width="0.4"/>
<line x1="98.6" y1="149.8" x2="110.6" y2="149.8" stroke="#888" stroke-width="0.4"/>
<line x1="41" y1="141.3" x2="74.6" y2="141.3" stroke="#161616" stroke-width="1.6"/>
<line x1="111.5" y1="141" x2="144.8" y2="141" stroke="#161616" stroke-width="1.9"/>
<path d="M41 193.6 L63.1 193.6 L63.1 172.9 L89.8 172.9" fill="none" stroke="#161616" stroke-width="1.7" stroke-linejoin="miter"/>
<path d="M97.7 172.9 L122.9 172.9 L122.9 193.6 L144.8 193.6" fill="none" stroke="#161616" stroke-width="1.7" stroke-linejoin="miter"/>
<line x1="92.9" y1="182.8" x2="92.9" y2="214.6" stroke="#161616" stroke-width="1.7"/>
<rect x="89.45" y="114.3" width="1.8" height="3.8" fill="#fff"/>
<rect x="96.25" y="114.3" width="1.8" height="3.8" fill="#fff"/>
<rect x="90.6" y="115.5" width="1.5" height="1.4" fill="#161616"/>
<rect x="94.5" y="115.5" width="1.6" height="1.4" fill="#161616"/>
<rect x="89.45" y="159.1" width="1.8" height="3.8" fill="#fff"/>
<rect x="96.25" y="159.1" width="1.8" height="3.8" fill="#fff"/>
<rect x="90.6" y="160.3" width="1.5" height="1.4" fill="#161616"/>
<rect x="94.5" y="160.3" width="1.6" height="1.4" fill="#161616"/>
<rect x="89.45" y="178.3" width="1.8" height="3.8" fill="#fff"/>
<rect x="96.25" y="178.3" width="1.8" height="3.8" fill="#fff"/>
<rect x="90.6" y="179.5" width="1.5" height="1.4" fill="#161616"/>
<rect x="94.5" y="179.5" width="1.6" height="1.4" fill="#161616"/>
<path d="M39.4 125 L32.4 126.3 L32.4 138.1 L39.4 139.4" fill="none" stroke="#333" stroke-width="0.85" stroke-linejoin="miter"/>
<path d="M146.4 125 L152.6 126.3 L152.6 138.1 L146.4 139.4" fill="none" stroke="#333" stroke-width="0.85" stroke-linejoin="miter"/>
<path d="M39.4 179.5 L32.4 180.8 L32.4 192.9 L39.4 194.2" fill="none" stroke="#333" stroke-width="0.85" stroke-linejoin="miter"/>
<path d="M146.4 179.5 L152.6 180.8 L152.6 192.9 L146.4 194.2" fill="none" stroke="#333" stroke-width="0.85" stroke-linejoin="miter"/>
<path d="M42.6 215.6 L44.4 222.3 L63.6 222.3 L65.4 215.6" fill="none" stroke="#333" stroke-width="0.85" stroke-linejoin="miter"/>
<path d="M120.6 215.6 L122.4 222.3 L141.6 222.3 L143.4 215.6" fill="none" stroke="#333" stroke-width="0.85" stroke-linejoin="miter"/>
</g>
<g transform="translate(0,280)">
<line x1="62.8" y1="69.1" x2="126.3" y2="69.1" stroke="#383838" stroke-width="0.5"/>
<line x1="62.8" y1="69.1" x2="41" y2="124" stroke="#383838" stroke-width="0.5"/>
<line x1="126.3" y1="69.1" x2="144.8" y2="104" stroke="#383838" stroke-width="0.5"/>
<line x1="62.4" y1="69.1" x2="68.8" y2="69.1" stroke="#161616" stroke-width="3.5"/>
<line x1="73.2" y1="69.1" x2="75.2" y2="69.1" stroke="#161616" stroke-width="3.5"/>
<line x1="79.3" y1="69.1" x2="88.3" y2="69.1" stroke="#161616" stroke-width="3.5"/>
<line x1="99" y1="69.1" x2="108.2" y2="69.1" stroke="#161616" stroke-width="3.5"/>
<line x1="112.2" y1="69.1" x2="114.2" y2="69.1" stroke="#161616" stroke-width="3.5"/>
<line x1="118.7" y1="69.1" x2="126.6" y2="69.1" stroke="#161616" stroke-width="3.5"/>
<line x1="63" y1="68.6" x2="61.01" y2="73.6" stroke="#161616" stroke-width="3.3"/>
<line x1="59.42" y1="77.6" x2="58.95" y2="78.8" stroke="#161616" stroke-width="3.3"/>
<line x1="57.28" y1="83" x2="54.66" y2="89.6" stroke="#161616" stroke-width="3.3"/>
<line x1="52.99" y1="93.8" x2="52.52" y2="95" stroke="#161616" stroke-width="3.3"/>
<line x1="50.53" y1="100" x2="47.51" y2="107.6" stroke="#161616" stroke-width="3.3"/>
<line x1="46" y1="111.4" x2="45.53" y2="112.6" stroke="#161616" stroke-width="3.3"/>
<line x1="43.94" y1="116.6" x2="41" y2="124" stroke="#161616" stroke-width="3.3"/>
<line x1="126.03" y1="68.6" x2="128.63" y2="73.5" stroke="#161616" stroke-width="3.3"/>
<line x1="130.75" y1="77.5" x2="131.39" y2="78.7" stroke="#161616" stroke-width="3.3"/>
<line x1="133.4" y1="82.5" x2="137.11" y2="89.5" stroke="#161616" stroke-width="3.3"/>
<line x1="139.5" y1="94" x2="140.14" y2="95.2" stroke="#161616" stroke-width="3.3"/>
<line x1="142.15" y1="99" x2="144.96" y2="104.3" stroke="#161616" stroke-width="3.3"/>
<path d="M84.3 70.6 L84.3 79.5 L100.3 79.5 L100.3 70.6" fill="none" stroke="#333" stroke-width="0.85" stroke-linejoin="miter"/>
<line x1="41" y1="122" x2="41" y2="214" stroke="#383838" stroke-width="0.5"/>
<line x1="144.8" y1="104" x2="144.8" y2="214" stroke="#383838" stroke-width="0.5"/>
<line x1="41" y1="123.8" x2="41" y2="128.5" stroke="#161616" stroke-width="3.3"/>
<line x1="41" y1="136" x2="41" y2="146.5" stroke="#161616" stroke-width="3.3"/>
<line x1="41" y1="154.5" x2="41" y2="164.5" stroke="#161616" stroke-width="3.3"/>
<line x1="41" y1="172.5" x2="41" y2="182.5" stroke="#161616" stroke-width="3.3"/>
<line x1="41" y1="191.2" x2="41" y2="200.5" stroke="#161616" stroke-width="3.3"/>
<line x1="41" y1="208.2" x2="41" y2="216.6" stroke="#161616" stroke-width="3.3"/>
<line x1="144.8" y1="103.8" x2="144.8" y2="110.5" stroke="#161616" stroke-width="3.3"/>
<line x1="144.8" y1="118.5" x2="144.8" y2="128.5" stroke="#161616" stroke-width="3.3"/>
<line x1="144.8" y1="136" x2="144.8" y2="146.5" stroke="#161616" stroke-width="3.3"/>
<line x1="144.8" y1="154.5" x2="144.8" y2="164.5" stroke="#161616" stroke-width="3.3"/>
<line x1="144.8" y1="172.5" x2="144.8" y2="182.5" stroke="#161616" stroke-width="3.3"/>
<line x1="144.8" y1="191.2" x2="144.8" y2="200.5" stroke="#161616" stroke-width="3.3"/>
<line x1="144.8" y1="208.2" x2="144.8" y2="216.6" stroke="#161616" stroke-width="3.3"/>
<line x1="41" y1="214.6" x2="144.8" y2="214.6" stroke="#383838" stroke-width="0.5"/>
<line x1="39.4" y1="214.6" x2="45.2" y2="214.6" stroke="#161616" stroke-width="3.3"/>
<line x1="53.2" y1="214.6" x2="55.8" y2="214.6" stroke="#161616" stroke-width="3.3"/>
<line x1="62.6" y1="214.6" x2="70.8" y2="214.6" stroke="#161616" stroke-width="3.3"/>
<line x1="78.2" y1="214.6" x2="80.8" y2="214.6" stroke="#161616" stroke-width="3.3"/>
<line x1="88.6" y1="214.6" x2="96.8" y2="214.6" stroke="#161616" stroke-width="3.3"/>
<line x1="104.2" y1="214.6" x2="106.8" y2="214.6" stroke="#161616" stroke-width="3.3"/>
<line x1="114.6" y1="214.6" x2="122.8" y2="214.6" stroke="#161616" stroke-width="3.3"/>
<line x1="130.2" y1="214.6" x2="132.8" y2="214.6" stroke="#161616" stroke-width="3.3"/>
<line x1="140.4" y1="214.6" x2="146.4" y2="214.6" stroke="#161616" stroke-width="3.3"/>
<path d="M55.8 86.2 L74 93 L74 104.8 L89.8 104.8" fill="none" stroke="#161616" stroke-width="2.1" stroke-linejoin="miter"/>
<path d="M132.6 83.4 L110.6 93 L110.6 104.8 L97.7 104.8" fill="none" stroke="#161616" stroke-width="2.1" stroke-linejoin="miter"/>
<rect x="92.6" y="105.8" width="1.6" height="2.4" fill="#161616"/>
<line x1="89.8" y1="104.8" x2="89.8" y2="129.9" stroke="#161616" stroke-width="2.1"/>
<line x1="89.8" y1="147.1" x2="89.8" y2="182.8" stroke="#161616" stroke-width="2.1"/>
<line x1="97.7" y1="104.8" x2="97.7" y2="124.6" stroke="#161616" stroke-width="2.1"/>
<line x1="97.7" y1="153" x2="97.7" y2="182.8" stroke="#161616" stroke-width="2.1"/>
<line x1="88.9" y1="182.8" x2="98.6" y2="182.8" stroke="#161616" stroke-width="1.2"/>
<path d="M89.8 129.4 L74.6 129.4 L74.6 148 L89.8 148" fill="none" stroke="#161616" stroke-width="2.1" stroke-linejoin="miter"/>
<line x1="74" y1="139" x2="99" y2="139.6" stroke="#333" stroke-width="0.7"/>
<line x1="88" y1="131" x2="88" y2="137.6" stroke="#666" stroke-width="0.5"/>
<line x1="88" y1="140.6" x2="88" y2="146.6" stroke="#666" stroke-width="0.5"/>
<text x="76.6" y="136" font-size="4.6" font-weight="bold" text-anchor="start" fill="#222" font-family="Liberation Sans, sans-serif" textLength="9" lengthAdjust="spacingAndGlyphs">LIFT</text>
<text x="76.6" y="145.3" font-size="4.6" font-weight="bold" text-anchor="start" fill="#222" font-family="Liberation Sans, sans-serif" textLength="9" lengthAdjust="spacingAndGlyphs">LIFT</text>
<path d="M97.7 124.6 L111.5 124.6 L111.5 153 L97.7 153" fill="none" stroke="#161616" stroke-width="2.1" stroke-linejoin="miter"/>
<rect x="96.8" y="130.4" width="14.2" height="17.2" fill="#161616"/>
<rect x="103.4" y="129.8" width="1.6" height="18.4" fill="#161616"/>
<line x1="98.2" y1="133.5" x2="103.2" y2="133.5" stroke="#f4f4f4" stroke-width="1"/>
<line x1="105.2" y1="133.5" x2="110.2" y2="133.5" stroke="#f4f4f4" stroke-width="1"/>
<line x1="98.2" y1="137.5" x2="103.2" y2="137.5" stroke="#f4f4f4" stroke-width="1"/>
<line x1="105.2" y1="137.5" x2="110.2" y2="137.5" stroke="#f4f4f4" stroke-width="1"/>
<line x1="98.2" y1="141.5" x2="103.2" y2="141.5" stroke="#f4f4f4" stroke-width="1"/>
<line x1="105.2" y1="141.5" x2="110.2" y2="141.5" stroke="#f4f4f4" stroke-width="1"/>
<line x1="98.2" y1="145.5" x2="103.2" y2="145.5" stroke="#f4f4f4" stroke-width="1"/>
<line x1="105.2" y1="145.5" x2="110.2" y2="145.5" stroke="#f4f4f4" stroke-width="1"/>
<line x1="98.6" y1="128.4" x2="110.6" y2="128.4" stroke="#888" stroke-width="0.4"/>
<line x1="98.6" y1="149.8" x2="110.6" y2="149.8" stroke="#888" stroke-width="0.4"/>
<line x1="41" y1="141.3" x2="74.6" y2="141.3" stroke="#161616" stroke-width="1.6"/>
<line x1="111.5" y1="141" x2="144.8" y2="141" stroke="#161616" stroke-width="1.9"/>
<path d="M41 193.6 L63.1 193.6 L63.1 172.9 L89.8 172.9" fill="none" stroke="#161616" stroke-width="2.1" stroke-linejoin="miter"/>
<path d="M97.7 172.9 L122.9 172.9 L122.9 193.6 L144.8 193.6" fill="none" stroke="#161616" stroke-width="2.1" stroke-linejoin="miter"/>
<line x1="92.9" y1="182.8" x2="92.9" y2="214.6" stroke="#161616" stroke-width="2.1"/>
<rect x="89.45" y="114.3" width="1.8" height="3.8" fill="#fff"/>
<rect x="96.25" y="114.3" width="1.8" height="3.8" fill="#fff"/>
<rect x="90.6" y="115.5" width="1.5" height="1.4" fill="#161616"/>
<rect x="94.5" y="115.5" width="1.6" height="1.4" fill="#161616"/>
<rect x="89.45" y="159.1" width="1.8" height="3.8" fill="#fff"/>
<rect x="96.25" y="159.1" width="1.8" height="3.8" fill="#fff"/>
<rect x="90.6" y="160.3" width="1.5" height="1.4" fill="#161616"/>
<rect x="94.5" y="160.3" width="1.6" height="1.4" fill="#161616"/>
<rect x="89.45" y="178.3" width="1.8" height="3.8" fill="#fff"/>
<rect x="96.25" y="178.3" width="1.8" height="3.8" fill="#fff"/>
<rect x="90.6" y="179.5" width="1.5" height="1.4" fill="#161616"/>
<rect x="94.5" y="179.5" width="1.6" height="1.4" fill="#161616"/>
<path d="M39.4 125 L32.4 126.3 L32.4 138.1 L39.4 139.4" fill="none" stroke="#333" stroke-width="0.85" stroke-linejoin="miter"/>
<path d="M146.4 125 L152.6 126.3 L152.6 138.1 L146.4 139.4" fill="none" stroke="#333" stroke-width="0.85" stroke-linejoin="miter"/>
<path d="M39.4 179.5 L32.4 180.8 L32.4 192.9 L39.4 194.2" fill="none" stroke="#333" stroke-width="0.85" stroke-linejoin="miter"/>
<path d="M146.4 179.5 L152.6 180.8 L152.6 192.9 L146.4 194.2" fill="none" stroke="#333" stroke-width="0.85" stroke-linejoin="miter"/>
<path d="M42.6 215.6 L44.4 222.3 L63.6 222.3 L65.4 215.6" fill="none" stroke="#333" stroke-width="0.85" stroke-linejoin="miter"/>
<path d="M120.6 215.6 L122.4 222.3 L141.6 222.3 L143.4 215.6" fill="none" stroke="#333" stroke-width="0.85" stroke-linejoin="miter"/>
</g>
<g transform="translate(178,280)">
<path d="M39.2 178 L39.2 215.2 L146.6 215.2 L146.6 181" fill="none" stroke="#333" stroke-width="0.7" stroke-linejoin="miter"/>
<path d="M42.4 181.5 L42.4 212.6 L143.2 212.6 L143.2 184" fill="none" stroke="#333" stroke-width="0.7" stroke-linejoin="miter"/>
<line x1="62.8" y1="69.1" x2="126.3" y2="69.1" stroke="#383838" stroke-width="0.5"/>
<line x1="62.8" y1="69.1" x2="41" y2="124" stroke="#383838" stroke-width="0.5"/>
<line x1="126.3" y1="69.1" x2="144.8" y2="104" stroke="#383838" stroke-width="0.5"/>
<line x1="62.4" y1="69.1" x2="68.8" y2="69.1" stroke="#161616" stroke-width="3.5"/>
<line x1="73.2" y1="69.1" x2="75.2" y2="69.1" stroke="#161616" stroke-width="3.5"/>
<line x1="79.3" y1="69.1" x2="88.3" y2="69.1" stroke="#161616" stroke-width="3.5"/>
<line x1="99" y1="69.1" x2="108.2" y2="69.1" stroke="#161616" stroke-width="3.5"/>
<line x1="112.2" y1="69.1" x2="114.2" y2="69.1" stroke="#161616" stroke-width="3.5"/>
<line x1="118.7" y1="69.1" x2="126.6" y2="69.1" stroke="#161616" stroke-width="3.5"/>
<line x1="63" y1="68.6" x2="61.01" y2="73.6" stroke="#161616" stroke-width="3.3"/>
<line x1="59.42" y1="77.6" x2="58.95" y2="78.8" stroke="#161616" stroke-width="3.3"/>
<line x1="57.28" y1="83" x2="54.66" y2="89.6" stroke="#161616" stroke-width="3.3"/>
<line x1="52.99" y1="93.8" x2="52.52" y2="95" stroke="#161616" stroke-width="3.3"/>
<line x1="50.53" y1="100" x2="47.51" y2="107.6" stroke="#161616" stroke-width="3.3"/>
<line x1="43.94" y1="116.6" x2="41" y2="124" stroke="#161616" stroke-width="3.3"/>
<line x1="126.03" y1="68.6" x2="128.63" y2="73.5" stroke="#161616" stroke-width="3.3"/>
<line x1="130.75" y1="77.5" x2="131.39" y2="78.7" stroke="#161616" stroke-width="3.3"/>
<line x1="133.4" y1="82.5" x2="137.11" y2="89.5" stroke="#161616" stroke-width="3.3"/>
<line x1="139.5" y1="94" x2="140.14" y2="95.2" stroke="#161616" stroke-width="3.3"/>
<line x1="142.15" y1="99" x2="144.96" y2="104.3" stroke="#161616" stroke-width="3.3"/>
<path d="M84.3 70.6 L84.3 79.5 L100.3 79.5 L100.3 70.6" fill="none" stroke="#333" stroke-width="0.85" stroke-linejoin="miter"/>
<line x1="41" y1="122" x2="41" y2="180" stroke="#383838" stroke-width="0.5"/>
<line x1="144.8" y1="104" x2="144.8" y2="180" stroke="#383838" stroke-width="0.5"/>
<line x1="41" y1="123.8" x2="41" y2="127.6" stroke="#161616" stroke-width="3.3"/>
<line x1="41" y1="131.2" x2="41" y2="133" stroke="#161616" stroke-width="3.3"/>
<line x1="41" y1="138" x2="41" y2="145" stroke="#161616" stroke-width="3.3"/>
<line x1="41" y1="156.2" x2="41" y2="164" stroke="#161616" stroke-width="3.3"/>
<line x1="41" y1="168" x2="41" y2="169.6" stroke="#161616" stroke-width="3.3"/>
<line x1="41" y1="173.4" x2="41" y2="179.4" stroke="#161616" stroke-width="3.3"/>
<line x1="144.8" y1="103.8" x2="144.8" y2="108.6" stroke="#161616" stroke-width="3.3"/>
<line x1="144.8" y1="119" x2="144.8" y2="127.6" stroke="#161616" stroke-width="3.3"/>
<line x1="144.8" y1="131.2" x2="144.8" y2="133" stroke="#161616" stroke-width="3.3"/>
<line x1="144.8" y1="138" x2="144.8" y2="145" stroke="#161616" stroke-width="3.3"/>
<line x1="144.8" y1="156.2" x2="144.8" y2="164" stroke="#161616" stroke-width="3.3"/>
<line x1="144.8" y1="168" x2="144.8" y2="169.6" stroke="#161616" stroke-width="3.3"/>
<line x1="144.8" y1="174" x2="144.8" y2="181" stroke="#161616" stroke-width="3.3"/>
<line x1="41" y1="178.6" x2="120" y2="213.4" stroke="#383838" stroke-width="0.5"/>
<line x1="144.8" y1="181" x2="120" y2="213" stroke="#383838" stroke-width="0.5"/>
<path d="M144.8 181 L120 213" stroke="#fff" stroke-width="1" stroke-dasharray="1.2 2.6" fill="none"/>
<line x1="40.6" y1="178.42" x2="45.4" y2="180.54" stroke="#161616" stroke-width="3"/>
<line x1="50.5" y1="182.78" x2="52" y2="183.45" stroke="#161616" stroke-width="3"/>
<line x1="57" y1="185.65" x2="65" y2="189.17" stroke="#161616" stroke-width="3"/>
<line x1="69.6" y1="191.2" x2="71.4" y2="191.99" stroke="#161616" stroke-width="3"/>
<line x1="76.5" y1="194.24" x2="84.2" y2="197.63" stroke="#161616" stroke-width="3"/>
<line x1="89.5" y1="199.96" x2="91" y2="200.63" stroke="#161616" stroke-width="3"/>
<line x1="96" y1="202.83" x2="104.2" y2="206.44" stroke="#161616" stroke-width="3"/>
<line x1="109.2" y1="208.64" x2="110.8" y2="209.35" stroke="#161616" stroke-width="3"/>
<line x1="114.8" y1="211.11" x2="121.6" y2="214.1" stroke="#161616" stroke-width="3"/>
<line x1="134.6" y1="194.33" x2="137.8" y2="190.15" stroke="#161616" stroke-width="3.2"/>
<line x1="126.6" y1="204.78" x2="129.8" y2="200.6" stroke="#161616" stroke-width="3.2"/>
<line x1="119.6" y1="213.9" x2="122.2" y2="210.6" stroke="#161616" stroke-width="3"/>
<path d="M55.8 86.2 L74 93 L74 104.8 L89.8 104.8" fill="none" stroke="#161616" stroke-width="1.85" stroke-linejoin="miter"/>
<path d="M132.6 83.4 L110.6 93 L110.6 104.8 L97.7 104.8" fill="none" stroke="#161616" stroke-width="1.85" stroke-linejoin="miter"/>
<rect x="92.6" y="105.8" width="1.6" height="2.4" fill="#161616"/>
<line x1="89.8" y1="104.8" x2="89.8" y2="129.9" stroke="#161616" stroke-width="1.85"/>
<line x1="89.8" y1="147.1" x2="89.8" y2="172.4" stroke="#161616" stroke-width="1.85"/>
<line x1="97.7" y1="104.8" x2="97.7" y2="124.6" stroke="#161616" stroke-width="1.85"/>
<line x1="97.7" y1="153" x2="97.7" y2="172.4" stroke="#161616" stroke-width="1.85"/>
<path d="M89.8 129.4 L74.6 129.4 L74.6 148 L89.8 148" fill="none" stroke="#161616" stroke-width="1.85" stroke-linejoin="miter"/>
<line x1="74" y1="139" x2="99" y2="139.6" stroke="#333" stroke-width="0.7"/>
<line x1="88" y1="131" x2="88" y2="137.6" stroke="#666" stroke-width="0.5"/>
<line x1="88" y1="140.6" x2="88" y2="146.6" stroke="#666" stroke-width="0.5"/>
<text x="76.6" y="136" font-size="4.6" font-weight="bold" text-anchor="start" fill="#222" font-family="Liberation Sans, sans-serif" textLength="9" lengthAdjust="spacingAndGlyphs">LIFT</text>
<text x="76.6" y="145.3" font-size="4.6" font-weight="bold" text-anchor="start" fill="#222" font-family="Liberation Sans, sans-serif" textLength="9" lengthAdjust="spacingAndGlyphs">LIFT</text>
<path d="M97.7 124.6 L111.5 124.6 L111.5 153 L97.7 153" fill="none" stroke="#161616" stroke-width="1.85" stroke-linejoin="miter"/>
<rect x="96.8" y="130.4" width="14.2" height="17.2" fill="#161616"/>
<rect x="103.4" y="129.8" width="1.6" height="18.4" fill="#161616"/>
<line x1="98.2" y1="133.5" x2="103.2" y2="133.5" stroke="#f4f4f4" stroke-width="1"/>
<line x1="105.2" y1="133.5" x2="110.2" y2="133.5" stroke="#f4f4f4" stroke-width="1"/>
<line x1="98.2" y1="137.5" x2="103.2" y2="137.5" stroke="#f4f4f4" stroke-width="1"/>
<line x1="105.2" y1="137.5" x2="110.2" y2="137.5" stroke="#f4f4f4" stroke-width="1"/>
<line x1="98.2" y1="141.5" x2="103.2" y2="141.5" stroke="#f4f4f4" stroke-width="1"/>
<line x1="105.2" y1="141.5" x2="110.2" y2="141.5" stroke="#f4f4f4" stroke-width="1"/>
<line x1="98.2" y1="145.5" x2="103.2" y2="145.5" stroke="#f4f4f4" stroke-width="1"/>
<line x1="105.2" y1="145.5" x2="110.2" y2="145.5" stroke="#f4f4f4" stroke-width="1"/>
<line x1="98.6" y1="128.4" x2="110.6" y2="128.4" stroke="#888" stroke-width="0.4"/>
<line x1="98.6" y1="149.8" x2="110.6" y2="149.8" stroke="#888" stroke-width="0.4"/>
<line x1="41" y1="141.3" x2="74.6" y2="141.3" stroke="#161616" stroke-width="1.6"/>
<line x1="111.5" y1="141" x2="144.8" y2="141" stroke="#161616" stroke-width="1.9"/>
<path d="M89.8 172.4 L75 172.4 L75 183.5 L70.5 192.6" fill="none" stroke="#161616" stroke-width="1.85" stroke-linejoin="miter"/>
<path d="M97.7 172.4 L111.2 172.4 L111.2 177.8 L118.8 177.8 L136.4 189.8" fill="none" stroke="#161616" stroke-width="1.85" stroke-linejoin="miter"/>
<rect x="89.45" y="114.3" width="1.8" height="3.8" fill="#fff"/>
<rect x="96.25" y="114.3" width="1.8" height="3.8" fill="#fff"/>
<rect x="90.6" y="115.5" width="1.5" height="1.4" fill="#161616"/>
<rect x="94.5" y="115.5" width="1.6" height="1.4" fill="#161616"/>
<rect x="89.45" y="158.5" width="1.8" height="3.8" fill="#fff"/>
<rect x="96.25" y="158.5" width="1.8" height="3.8" fill="#fff"/>
<rect x="90.6" y="159.7" width="1.5" height="1.4" fill="#161616"/>
<rect x="94.5" y="159.7" width="1.6" height="1.4" fill="#161616"/>
<rect x="89.45" y="168.1" width="1.8" height="3.8" fill="#fff"/>
<rect x="96.25" y="168.1" width="1.8" height="3.8" fill="#fff"/>
<rect x="90.6" y="169.3" width="1.5" height="1.4" fill="#161616"/>
<rect x="94.5" y="169.3" width="1.6" height="1.4" fill="#161616"/>
<path d="M48.5 107.2 L56.5 111 L51 124.5 L43.5 121 Z" fill="none" stroke="#333" stroke-width="0.85" stroke-linejoin="miter"/>
<path d="M144.8 108 L135 108 L135 123 L144.8 123" fill="none" stroke="#333" stroke-width="0.85" stroke-linejoin="miter"/>
<path d="M41 141.4 L51.5 141.4 L51.5 156.5 L41 156.5" fill="none" stroke="#333" stroke-width="0.85" stroke-linejoin="miter"/>
<path d="M144.8 141.4 L135 141.4 L135 156.5 L144.8 156.5" fill="none" stroke="#333" stroke-width="0.85" stroke-linejoin="miter"/>
<path d="M128 185.2 L135.2 190.2 L126.8 202.2 L120 197.4 Z" fill="none" stroke="#333" stroke-width="0.85" stroke-linejoin="miter"/>
<line x1="136.2" y1="190.4" x2="128.2" y2="201.8" stroke="#161616" stroke-width="0.9"/>
</g>
<g transform="translate(356,280)">
<line x1="62.8" y1="69.1" x2="126.3" y2="69.1" stroke="#383838" stroke-width="0.5"/>
<line x1="62.8" y1="69.1" x2="41" y2="124" stroke="#383838" stroke-width="0.5"/>
<line x1="126.3" y1="69.1" x2="144.8" y2="104" stroke="#383838" stroke-width="0.5"/>
<line x1="62.4" y1="69.1" x2="68.8" y2="69.1" stroke="#161616" stroke-width="3.5"/>
<line x1="73.2" y1="69.1" x2="75.2" y2="69.1" stroke="#161616" stroke-width="3.5"/>
<line x1="79.3" y1="69.1" x2="88.3" y2="69.1" stroke="#161616" stroke-width="3.5"/>
<line x1="99" y1="69.1" x2="108.2" y2="69.1" stroke="#161616" stroke-width="3.5"/>
<line x1="112.2" y1="69.1" x2="114.2" y2="69.1" stroke="#161616" stroke-width="3.5"/>
<line x1="118.7" y1="69.1" x2="126.6" y2="69.1" stroke="#161616" stroke-width="3.5"/>
<line x1="63" y1="68.6" x2="61.01" y2="73.6" stroke="#161616" stroke-width="3.3"/>
<line x1="59.42" y1="77.6" x2="58.95" y2="78.8" stroke="#161616" stroke-width="3.3"/>
<line x1="57.28" y1="83" x2="54.66" y2="89.6" stroke="#161616" stroke-width="3.3"/>
<line x1="52.99" y1="93.8" x2="52.52" y2="95" stroke="#161616" stroke-width="3.3"/>
<line x1="50.53" y1="100" x2="47.51" y2="107.6" stroke="#161616" stroke-width="3.3"/>
<line x1="43.94" y1="116.6" x2="41" y2="124" stroke="#161616" stroke-width="3.3"/>
<line x1="126.03" y1="68.6" x2="128.63" y2="73.5" stroke="#161616" stroke-width="3.3"/>
<line x1="130.75" y1="77.5" x2="131.39" y2="78.7" stroke="#161616" stroke-width="3.3"/>
<line x1="133.4" y1="82.5" x2="137.11" y2="89.5" stroke="#161616" stroke-width="3.3"/>
<line x1="139.5" y1="94" x2="140.14" y2="95.2" stroke="#161616" stroke-width="3.3"/>
<line x1="142.15" y1="99" x2="144.96" y2="104.3" stroke="#161616" stroke-width="3.3"/>
<path d="M84.3 70.6 L84.3 79.5 L100.3 79.5 L100.3 70.6" fill="none" stroke="#333" stroke-width="0.85" stroke-linejoin="miter"/>
<line x1="41" y1="122" x2="41" y2="180" stroke="#383838" stroke-width="0.5"/>
<line x1="144.8" y1="104" x2="144.8" y2="180" stroke="#383838" stroke-width="0.5"/>
<line x1="41" y1="123.8" x2="41" y2="127.6" stroke="#161616" stroke-width="3.3"/>
<line x1="41" y1="131.2" x2="41" y2="133" stroke="#161616" stroke-width="3.3"/>
<line x1="41" y1="138" x2="41" y2="145" stroke="#161616" stroke-width="3.3"/>
<line x1="41" y1="156.2" x2="41" y2="164" stroke="#161616" stroke-width="3.3"/>
<line x1="41" y1="168" x2="41" y2="169.6" stroke="#161616" stroke-width="3.3"/>
<line x1="41" y1="173.4" x2="41" y2="179.4" stroke="#161616" stroke-width="3.3"/>
<line x1="144.8" y1="103.8" x2="144.8" y2="108.6" stroke="#161616" stroke-width="3.3"/>
<line x1="144.8" y1="119" x2="144.8" y2="127.6" stroke="#161616" stroke-width="3.3"/>
<line x1="144.8" y1="131.2" x2="144.8" y2="133" stroke="#161616" stroke-width="3.3"/>
<line x1="144.8" y1="138" x2="144.8" y2="145" stroke="#161616" stroke-width="3.3"/>
<line x1="144.8" y1="156.2" x2="144.8" y2="164" stroke="#161616" stroke-width="3.3"/>
<line x1="144.8" y1="168" x2="144.8" y2="169.6" stroke="#161616" stroke-width="3.3"/>
<line x1="144.8" y1="174" x2="144.8" y2="181" stroke="#161616" stroke-width="3.3"/>
<line x1="41" y1="178.6" x2="120" y2="213.4" stroke="#383838" stroke-width="0.5"/>
<line x1="144.8" y1="181" x2="120" y2="213" stroke="#383838" stroke-width="0.5"/>
<path d="M144.8 181 L120 213" stroke="#fff" stroke-width="1" stroke-dasharray="1.2 2.6" fill="none"/>
<line x1="40.6" y1="178.42" x2="45.4" y2="180.54" stroke="#161616" stroke-width="3"/>
<line x1="50.5" y1="182.78" x2="52" y2="183.45" stroke="#161616" stroke-width="3"/>
<line x1="57" y1="185.65" x2="65" y2="189.17" stroke="#161616" stroke-width="3"/>
<line x1="69.6" y1="191.2" x2="71.4" y2="191.99" stroke="#161616" stroke-width="3"/>
<line x1="76.5" y1="194.24" x2="84.2" y2="197.63" stroke="#161616" stroke-width="3"/>
<line x1="89.5" y1="199.96" x2="91" y2="200.63" stroke="#161616" stroke-width="3"/>
<line x1="96" y1="202.83" x2="104.2" y2="206.44" stroke="#161616" stroke-width="3"/>
<line x1="109.2" y1="208.64" x2="110.8" y2="209.35" stroke="#161616" stroke-width="3"/>
<line x1="114.8" y1="211.11" x2="121.6" y2="214.1" stroke="#161616" stroke-width="3"/>
<line x1="134.6" y1="194.33" x2="137.8" y2="190.15" stroke="#161616" stroke-width="3.2"/>
<line x1="126.6" y1="204.78" x2="129.8" y2="200.6" stroke="#161616" stroke-width="3.2"/>
<line x1="119.6" y1="213.9" x2="122.2" y2="210.6" stroke="#161616" stroke-width="3"/>
<path d="M55.8 86.2 L74 93 L74 104.8 L89.8 104.8" fill="none" stroke="#161616" stroke-width="1.85" stroke-linejoin="miter"/>
<path d="M132.6 83.4 L110.6 93 L110.6 104.8 L97.7 104.8" fill="none" stroke="#161616" stroke-width="1.85" stroke-linejoin="miter"/>
<rect x="92.6" y="105.8" width="1.6" height="2.4" fill="#161616"/>
<line x1="89.8" y1="104.8" x2="89.8" y2="129.9" stroke="#161616" stroke-width="1.85"/>
<line x1="89.8" y1="147.1" x2="89.8" y2="172.4" stroke="#161616" stroke-width="1.85"/>
<line x1="97.7" y1="104.8" x2="97.7" y2="124.6" stroke="#161616" stroke-width="1.85"/>
<line x1="97.7" y1="153" x2="97.7" y2="172.4" stroke="#161616" stroke-width="1.85"/>
<path d="M89.8 129.4 L74.6 129.4 L74.6 148 L89.8 148" fill="none" stroke="#161616" stroke-width="1.85" stroke-linejoin="miter"/>
<line x1="74" y1="139" x2="99" y2="139.6" stroke="#333" stroke-width="0.7"/>
<line x1="88" y1="131" x2="88" y2="137.6" stroke="#666" stroke-width="0.5"/>
<line x1="88" y1="140.6" x2="88" y2="146.6" stroke="#666" stroke-width="0.5"/>
<text x="76.6" y="136" font-size="4.6" font-weight="bold" text-anchor="start" fill="#222" font-family="Liberation Sans, sans-serif" textLength="9" lengthAdjust="spacingAndGlyphs">LIFT</text>
<text x="76.6" y="145.3" font-size="4.6" font-weight="bold" text-anchor="start" fill="#222" font-family="Liberation Sans, sans-serif" textLength="9" lengthAdjust="spacingAndGlyphs">LIFT</text>
<path d="M97.7 124.6 L111.5 124.6 L111.5 153 L97.7 153" fill="none" stroke="#161616" stroke-width="1.85" stroke-linejoin="miter"/>
<rect x="96.8" y="130.4" width="14.2" height="17.2" fill="#161616"/>
<rect x="103.4" y="129.8" width="1.6" height="18.4" fill="#161616"/>
<line x1="98.2" y1="133.5" x2="103.2" y2="133.5" stroke="#f4f4f4" stroke-width="1"/>
<line x1="105.2" y1="133.5" x2="110.2" y2="133.5" stroke="#f4f4f4" stroke-width="1"/>
<line x1="98.2" y1="137.5" x2="103.2" y2="137.5" stroke="#f4f4f4" stroke-width="1"/>
<line x1="105.2" y1="137.5" x2="110.2" y2="137.5" stroke="#f4f4f4" stroke-width="1"/>
<line x1="98.2" y1="141.5" x2="103.2" y2="141.5" stroke="#f4f4f4" stroke-width="1"/>
<line x1="105.2" y1="141.5" x2="110.2" y2="141.5" stroke="#f4f4f4" stroke-width="1"/>
<line x1="98.2" y1="145.5" x2="103.2" y2="145.5" stroke="#f4f4f4" stroke-width="1"/>
<line x1="105.2" y1="145.5" x2="110.2" y2="145.5" stroke="#f4f4f4" stroke-width="1"/>
<line x1="98.6" y1="128.4" x2="110.6" y2="128.4" stroke="#888" stroke-width="0.4"/>
<line x1="98.6" y1="149.8" x2="110.6" y2="149.8" stroke="#888" stroke-width="0.4"/>
<line x1="41" y1="141.3" x2="74.6" y2="141.3" stroke="#161616" stroke-width="1.6"/>
<line x1="111.5" y1="141" x2="144.8" y2="141" stroke="#161616" stroke-width="1.9"/>
<path d="M89.8 172.4 L75 172.4 L75 183.5 L70.5 192.6" fill="none" stroke="#161616" stroke-width="1.85" stroke-linejoin="miter"/>
<path d="M97.7 172.4 L111.2 172.4 L111.2 177.8 L118.8 177.8 L136.4 189.8" fill="none" stroke="#161616" stroke-width="1.85" stroke-linejoin="miter"/>
<rect x="89.45" y="114.3" width="1.8" height="3.8" fill="#fff"/>
<rect x="96.25" y="114.3" width="1.8" height="3.8" fill="#fff"/>
<rect x="90.6" y="115.5" width="1.5" height="1.4" fill="#161616"/>
<rect x="94.5" y="115.5" width="1.6" height="1.4" fill="#161616"/>
<rect x="89.45" y="158.5" width="1.8" height="3.8" fill="#fff"/>
<rect x="96.25" y="158.5" width="1.8" height="3.8" fill="#fff"/>
<rect x="90.6" y="159.7" width="1.5" height="1.4" fill="#161616"/>
<rect x="94.5" y="159.7" width="1.6" height="1.4" fill="#161616"/>
<rect x="89.45" y="168.1" width="1.8" height="3.8" fill="#fff"/>
<rect x="96.25" y="168.1" width="1.8" height="3.8" fill="#fff"/>
<rect x="90.6" y="169.3" width="1.5" height="1.4" fill="#161616"/>
<rect x="94.5" y="169.3" width="1.6" height="1.4" fill="#161616"/>
<path d="M48.5 107.2 L56.5 111 L51 124.5 L43.5 121 Z" fill="none" stroke="#333" stroke-width="0.85" stroke-linejoin="miter"/>
<path d="M144.8 108 L135 108 L135 123 L144.8 123" fill="none" stroke="#333" stroke-width="0.85" stroke-linejoin="miter"/>
<path d="M41 141.4 L51.5 141.4 L51.5 156.5 L41 156.5" fill="none" stroke="#333" stroke-width="0.85" stroke-linejoin="miter"/>
<path d="M144.8 141.4 L135 141.4 L135 156.5 L144.8 156.5" fill="none" stroke="#333" stroke-width="0.85" stroke-linejoin="miter"/>
<path d="M128 185.2 L135.2 190.2 L126.8 202.2 L120 197.4 Z" fill="none" stroke="#333" stroke-width="0.85" stroke-linejoin="miter"/>
<line x1="136.2" y1="190.4" x2="128.2" y2="201.8" stroke="#161616" stroke-width="0.9"/>
</g>
<g transform="translate(534.4,280)">
<line x1="62.8" y1="69.1" x2="126.3" y2="69.1" stroke="#383838" stroke-width="0.5"/>
<line x1="62.8" y1="69.1" x2="41" y2="124" stroke="#383838" stroke-width="0.5"/>
<line x1="126.3" y1="69.1" x2="144.8" y2="104" stroke="#383838" stroke-width="0.5"/>
<line x1="62.4" y1="69.1" x2="68.8" y2="69.1" stroke="#161616" stroke-width="3.5"/>
<line x1="73.2" y1="69.1" x2="75.2" y2="69.1" stroke="#161616" stroke-width="3.5"/>
<line x1="79.3" y1="69.1" x2="88.3" y2="69.1" stroke="#161616" stroke-width="3.5"/>
<line x1="99" y1="69.1" x2="108.2" y2="69.1" stroke="#161616" stroke-width="3.5"/>
<line x1="112.2" y1="69.1" x2="114.2" y2="69.1" stroke="#161616" stroke-width="3.5"/>
<line x1="118.7" y1="69.1" x2="126.6" y2="69.1" stroke="#161616" stroke-width="3.5"/>
<line x1="63" y1="68.6" x2="61.01" y2="73.6" stroke="#161616" stroke-width="3.3"/>
<line x1="59.42" y1="77.6" x2="58.95" y2="78.8" stroke="#161616" stroke-width="3.3"/>
<line x1="57.28" y1="83" x2="54.66" y2="89.6" stroke="#161616" stroke-width="3.3"/>
<line x1="52.99" y1="93.8" x2="52.52" y2="95" stroke="#161616" stroke-width="3.3"/>
<line x1="50.53" y1="100" x2="47.51" y2="107.6" stroke="#161616" stroke-width="3.3"/>
<line x1="43.94" y1="116.6" x2="41" y2="124" stroke="#161616" stroke-width="3.3"/>
<line x1="126.03" y1="68.6" x2="128.63" y2="73.5" stroke="#161616" stroke-width="3.3"/>
<line x1="130.75" y1="77.5" x2="131.39" y2="78.7" stroke="#161616" stroke-width="3.3"/>
<line x1="133.4" y1="82.5" x2="137.11" y2="89.5" stroke="#161616" stroke-width="3.3"/>
<line x1="139.5" y1="94" x2="140.14" y2="95.2" stroke="#161616" stroke-width="3.3"/>
<line x1="142.15" y1="99" x2="144.96" y2="104.3" stroke="#161616" stroke-width="3.3"/>
<path d="M84.3 70.6 L84.3 79.5 L100.3 79.5 L100.3 70.6" fill="none" stroke="#333" stroke-width="0.85" stroke-linejoin="miter"/>
<line x1="41" y1="122" x2="41" y2="180" stroke="#383838" stroke-width="0.5"/>
<line x1="144.8" y1="104" x2="144.8" y2="180" stroke="#383838" stroke-width="0.5"/>
<line x1="41" y1="123.8" x2="41" y2="127.6" stroke="#161616" stroke-width="3.3"/>
<line x1="41" y1="131.2" x2="41" y2="133" stroke="#161616" stroke-width="3.3"/>
<line x1="41" y1="138" x2="41" y2="145" stroke="#161616" stroke-width="3.3"/>
<line x1="41" y1="156.2" x2="41" y2="164" stroke="#161616" stroke-width="3.3"/>
<line x1="41" y1="168" x2="41" y2="169.6" stroke="#161616" stroke-width="3.3"/>
<line x1="41" y1="173.4" x2="41" y2="179.4" stroke="#161616" stroke-width="3.3"/>
<line x1="144.8" y1="103.8" x2="144.8" y2="108.6" stroke="#161616" stroke-width="3.3"/>
<line x1="144.8" y1="119" x2="144.8" y2="127.6" stroke="#161616" stroke-width="3.3"/>
<line x1="144.8" y1="131.2" x2="144.8" y2="133" stroke="#161616" stroke-width="3.3"/>
<line x1="144.8" y1="138" x2="144.8" y2="145" stroke="#161616" stroke-width="3.3"/>
<line x1="144.8" y1="156.2" x2="144.8" y2="164" stroke="#161616" stroke-width="3.3"/>
<line x1="144.8" y1="168" x2="144.8" y2="169.6" stroke="#161616" stroke-width="3.3"/>
<line x1="144.8" y1="174" x2="144.8" y2="181" stroke="#161616" stroke-width="3.3"/>
<line x1="41" y1="178.6" x2="120" y2="213.4" stroke="#383838" stroke-width="0.5"/>
<line x1="144.8" y1="181" x2="120" y2="213" stroke="#383838" stroke-width="0.5"/>
<path d="M144.8 181 L120 213" stroke="#fff" stroke-width="1" stroke-dasharray="1.2 2.6" fill="none"/>
<line x1="40.6" y1="178.42" x2="45.4" y2="180.54" stroke="#161616" stroke-width="3"/>
<line x1="50.5" y1="182.78" x2="52" y2="183.45" stroke="#161616" stroke-width="3"/>
<line x1="57" y1="185.65" x2="65" y2="189.17" stroke="#161616" stroke-width="3"/>
<line x1="69.6" y1="191.2" x2="71.4" y2="191.99" stroke="#161616" stroke-width="3"/>
<line x1="76.5" y1="194.24" x2="84.2" y2="197.63" stroke="#161616" stroke-width="3"/>
<line x1="89.5" y1="199.96" x2="91" y2="200.63" stroke="#161616" stroke-width="3"/>
<line x1="96" y1="202.83" x2="104.2" y2="206.44" stroke="#161616" stroke-width="3"/>
<line x1="109.2" y1="208.64" x2="110.8" y2="209.35" stroke="#161616" stroke-width="3"/>
<line x1="114.8" y1="211.11" x2="121.6" y2="214.1" stroke="#161616" stroke-width="3"/>
<line x1="134.6" y1="194.33" x2="137.8" y2="190.15" stroke="#161616" stroke-width="3.2"/>
<line x1="126.6" y1="204.78" x2="129.8" y2="200.6" stroke="#161616" stroke-width="3.2"/>
<line x1="119.6" y1="213.9" x2="122.2" y2="210.6" stroke="#161616" stroke-width="3"/>
<path d="M55.8 86.2 L74 93 L74 104.8 L89.8 104.8" fill="none" stroke="#161616" stroke-width="1.7" stroke-linejoin="miter"/>
<path d="M132.6 83.4 L110.6 93 L110.6 104.8 L97.7 104.8" fill="none" stroke="#161616" stroke-width="1.7" stroke-linejoin="miter"/>
<rect x="92.6" y="105.8" width="1.6" height="2.4" fill="#161616"/>
<line x1="89.8" y1="104.8" x2="89.8" y2="129.9" stroke="#161616" stroke-width="1.7"/>
<line x1="89.8" y1="147.1" x2="89.8" y2="172.4" stroke="#161616" stroke-width="1.7"/>
<line x1="97.7" y1="104.8" x2="97.7" y2="124.6" stroke="#161616" stroke-width="1.7"/>
<line x1="97.7" y1="153" x2="97.7" y2="172.4" stroke="#161616" stroke-width="1.7"/>
<line x1="88.9" y1="172.4" x2="98.6" y2="172.4" stroke="#161616" stroke-width="1.2"/>
<path d="M89.8 129.4 L74.6 129.4 L74.6 148 L89.8 148" fill="none" stroke="#161616" stroke-width="1.7" stroke-linejoin="miter"/>
<line x1="74" y1="139" x2="99" y2="139.6" stroke="#333" stroke-width="0.7"/>
<line x1="88" y1="131" x2="88" y2="137.6" stroke="#666" stroke-width="0.5"/>
<line x1="88" y1="140.6" x2="88" y2="146.6" stroke="#666" stroke-width="0.5"/>
<text x="76.6" y="136" font-size="4.6" font-weight="bold" text-anchor="start" fill="#222" font-family="Liberation Sans, sans-serif" textLength="9" lengthAdjust="spacingAndGlyphs">LIFT</text>
<text x="76.6" y="145.3" font-size="4.6" font-weight="bold" text-anchor="start" fill="#222" font-family="Liberation Sans, sans-serif" textLength="9" lengthAdjust="spacingAndGlyphs">LIFT</text>
<path d="M97.7 124.6 L111.5 124.6 L111.5 153 L97.7 153" fill="none" stroke="#161616" stroke-width="1.7" stroke-linejoin="miter"/>
<path d="M98.6 131 L106 131 L106 146 L98.6 146 Z" fill="none" stroke="#161616" stroke-width="1.5" stroke-linejoin="miter"/>
<rect x="98.6" y="131" width="7.4" height="7.5" fill="#161616"/>
<line x1="99.4" y1="133.2" x2="105" y2="133.2" stroke="#fff" stroke-width="0.5"/>
<line x1="99.4" y1="135.4" x2="105" y2="135.4" stroke="#fff" stroke-width="0.5"/>
<rect x="106" y="138.5" width="5.4" height="6.5" fill="#161616"/>
<line x1="106.6" y1="140.4" x2="111" y2="140.4" stroke="#fff" stroke-width="0.5"/>
<line x1="106.6" y1="142.6" x2="111" y2="142.6" stroke="#fff" stroke-width="0.5"/>
<line x1="98.6" y1="128.6" x2="111" y2="128.6" stroke="#888" stroke-width="0.4"/>
<line x1="98.6" y1="149.6" x2="111" y2="149.6" stroke="#888" stroke-width="0.4"/>
<line x1="41" y1="141.3" x2="74.6" y2="141.3" stroke="#161616" stroke-width="1.6"/>
<line x1="111.5" y1="141" x2="144.8" y2="141" stroke="#161616" stroke-width="1.9"/>
<path d="M89.8 172.4 L84.2 172.4 L84.2 183.5 L78.6 194.6" fill="none" stroke="#161616" stroke-width="1.7" stroke-linejoin="miter"/>
<rect x="89.45" y="114.3" width="1.8" height="3.8" fill="#fff"/>
<rect x="96.25" y="114.3" width="1.8" height="3.8" fill="#fff"/>
<rect x="90.6" y="115.5" width="1.5" height="1.4" fill="#161616"/>
<rect x="94.5" y="115.5" width="1.6" height="1.4" fill="#161616"/>
<rect x="89.45" y="158.5" width="1.8" height="3.8" fill="#fff"/>
<rect x="96.25" y="158.5" width="1.8" height="3.8" fill="#fff"/>
<rect x="90.6" y="159.7" width="1.5" height="1.4" fill="#161616"/>
<rect x="94.5" y="159.7" width="1.6" height="1.4" fill="#161616"/>
<path d="M48.5 107.2 L56.5 111 L51 124.5 L43.5 121 Z" fill="none" stroke="#333" stroke-width="0.85" stroke-linejoin="miter"/>
<path d="M144.8 108 L135 108 L135 123 L144.8 123" fill="none" stroke="#333" stroke-width="0.85" stroke-linejoin="miter"/>
<path d="M41 141.4 L51.5 141.4 L51.5 156.5 L41 156.5" fill="none" stroke="#333" stroke-width="0.85" stroke-linejoin="miter"/>
<path d="M144.8 141.4 L135 141.4 L135 156.5 L144.8 156.5" fill="none" stroke="#333" stroke-width="0.85" stroke-linejoin="miter"/>
<path d="M128 185.2 L135.2 190.2 L126.8 202.2 L120 197.4 Z" fill="none" stroke="#333" stroke-width="0.85" stroke-linejoin="miter"/>
<line x1="136.2" y1="190.4" x2="128.2" y2="201.8" stroke="#161616" stroke-width="0.9"/>
</g>
<text class="lb" x="60.7" y="271.2" textLength="8.8" lengthAdjust="spacingAndGlyphs">2</text>
<text class="lb sp" x="69.5" y="265.6" textLength="6.2" lengthAdjust="spacingAndGlyphs">e</text>
<text class="lb" x="82.7" y="271.2" textLength="25.2" lengthAdjust="spacingAndGlyphs">en</text>
<text class="lb" x="111.1" y="271.2" textLength="9.8" lengthAdjust="spacingAndGlyphs">3</text>
<text class="lb sp" x="122.5" y="265.6" textLength="7" lengthAdjust="spacingAndGlyphs">e</text>
<text class="lb" x="46.7" y="289.2" textLength="95.3" lengthAdjust="spacing">verdieping</text>
<text class="lb" x="264.5" y="271.2" textLength="10.2" lengthAdjust="spacingAndGlyphs">4</text>
<text class="lb sp" x="275.1" y="265.6" textLength="6" lengthAdjust="spacingAndGlyphs">e</text>
<text class="lb" x="224.3" y="289.2" textLength="96.1" lengthAdjust="spacing">verdieping</text>
<text class="lb" x="411.5" y="271.2" textLength="9.8" lengthAdjust="spacingAndGlyphs">5</text>
<text class="lb sp" x="421.9" y="265.6" textLength="6.4" lengthAdjust="spacingAndGlyphs">e</text>
<text class="lb" x="434.7" y="271.2" textLength="31.8" lengthAdjust="spacingAndGlyphs">t/m</text>
<text class="lb" x="470.1" y="271.2" textLength="10.8" lengthAdjust="spacingAndGlyphs">8</text>
<text class="lb sp" x="481.9" y="265.6" textLength="6.6" lengthAdjust="spacingAndGlyphs">e</text>
<text class="lb" x="402.5" y="289.2" textLength="96.3" lengthAdjust="spacing">verdieping</text>
<text class="lb" x="620.7" y="271.2" textLength="10" lengthAdjust="spacingAndGlyphs">9</text>
<text class="lb sp" x="631.5" y="265.6" textLength="6.6" lengthAdjust="spacingAndGlyphs">e</text>
<text class="lb" x="581.5" y="289.2" textLength="95.3" lengthAdjust="spacing">verdieping</text>
<text class="lb l1" x="81.2" y="525.8" textLength="5.85" lengthAdjust="spacingAndGlyphs">1</text>
<text class="lb" x="87.6" y="525.8" textLength="13.8" lengthAdjust="spacingAndGlyphs">0</text>
<text class="lb sp" x="101.5" y="520.2" textLength="6.6" lengthAdjust="spacingAndGlyphs">e</text>
<text class="lb" x="46.5" y="544.4" textLength="95.9" lengthAdjust="spacing">verdieping</text>
<text class="lb l1" x="263.4" y="525.8" textLength="5.54" lengthAdjust="spacingAndGlyphs">1</text>
<text class="lb l1" x="269" y="525.8" textLength="5.54" lengthAdjust="spacingAndGlyphs">1</text>
<text class="lb sp" x="275.5" y="520.2" textLength="6.6" lengthAdjust="spacingAndGlyphs">e</text>
<text class="lb" x="224.5" y="544.4" textLength="95.9" lengthAdjust="spacing">verdieping</text>
<text class="lb l1" x="404" y="525.8" textLength="5.85" lengthAdjust="spacingAndGlyphs">1</text>
<text class="lb" x="410.5" y="525.8" textLength="12" lengthAdjust="spacingAndGlyphs">2</text>
<text class="lb sp" x="422.9" y="520.2" textLength="6.2" lengthAdjust="spacingAndGlyphs">e</text>
<text class="lb" x="434.7" y="525.8" textLength="31.4" lengthAdjust="spacingAndGlyphs">t/m</text>
<text class="lb l1" x="471.8" y="525.8" textLength="5.85" lengthAdjust="spacingAndGlyphs">1</text>
<text class="lb" x="478.7" y="525.8" textLength="11.4" lengthAdjust="spacingAndGlyphs">8</text>
<text class="lb sp" x="491.1" y="520.2" textLength="7" lengthAdjust="spacingAndGlyphs">e</text>
<text class="lb" x="402.5" y="544.4" textLength="96.3" lengthAdjust="spacing">verdieping</text>
<text class="lb l1" x="616.6" y="525.8" textLength="5.85" lengthAdjust="spacingAndGlyphs">1</text>
<text class="lb" x="622.9" y="525.8" textLength="12.4" lengthAdjust="spacingAndGlyphs">9</text>
<text class="lb sp" x="635.5" y="520.2" textLength="6.6" lengthAdjust="spacingAndGlyphs">e</text>
<text class="lb" x="581.5" y="544.4" textLength="95.3" lengthAdjust="spacing">verdieping</text>
</svg>
</body></html>
